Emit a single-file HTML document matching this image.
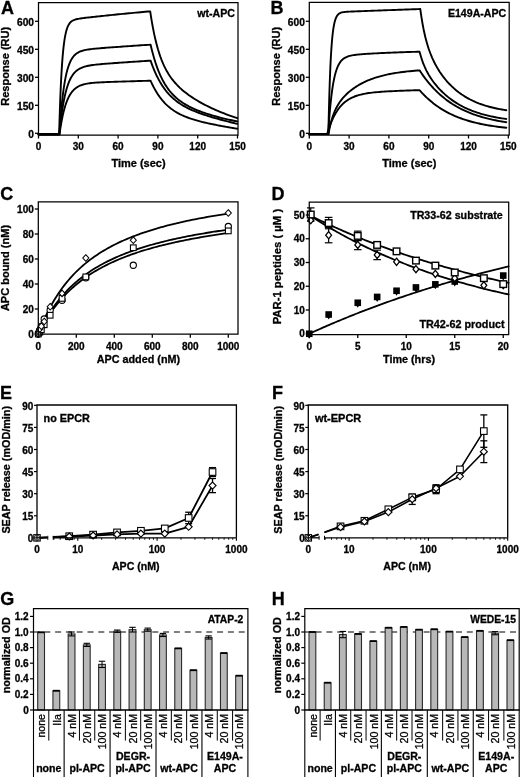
<!DOCTYPE html>
<html><head><meta charset="utf-8"><style>
html,body{margin:0;padding:0;background:#fff;width:520px;height:777px;overflow:hidden;}
svg{display:block;font-family:"Liberation Sans", sans-serif;will-change:transform;filter:blur(0.35px);}
text{stroke:#000;stroke-width:0.3px;}
</style></head><body>
<svg width="520" height="777" viewBox="0 0 520 777" font-family='"Liberation Sans", sans-serif'>
<rect width="520" height="777" fill="#fff"/>
<polyline points="38.5,134.2 59.13,134.2 59.14,133.97 59.16,133.16 59.2,131.69 59.26,129.52 59.34,126.65 59.45,123.11 59.57,118.94 59.73,114.21 59.9,109 60.1,103.39 60.32,97.5 60.58,91.41 60.85,85.24 61.16,79.08 61.49,73.03 61.85,67.17 62.24,61.58 62.65,56.31 63.1,51.4 63.57,46.9 64.07,42.82 64.6,39.15 65.17,35.91 65.76,33.07 66.38,30.6 67.03,28.49 67.72,26.7 68.43,25.19 69.18,23.93 69.95,22.88 70.76,22.02 71.61,21.32 72.48,20.74 73.38,20.26 74.32,19.87 75.29,19.54 76.3,19.27 77.34,19.03 78.41,18.82 79.51,18.63 80.65,18.45 81.82,18.28 83.02,18.12 84.26,17.97 85.54,17.81 86.84,17.66 88.19,17.51 89.56,17.35 90.98,17.19 92.42,17.03 93.91,16.87 95.42,16.7 96.98,16.53 98.57,16.36 100.19,16.19 101.85,16.01 103.55,15.83 105.28,15.65 107.05,15.47 108.85,15.28 110.69,15.09 112.57,14.9 114.49,14.71 116.44,14.51 118.42,14.31 120.45,14.11 122.51,13.91 124.61,13.7 126.75,13.5 128.92,13.29 131.14,13.08 133.39,12.86 135.67,12.65 138,12.43 140.36,12.22 142.76,12 145.2,11.78 147.68,11.56 150.2,11.33 150.24,11.62 150.35,12.34 150.51,13.4 150.72,14.78 150.97,16.42 151.27,18.29 151.62,20.38 152,22.63 152.43,25.04 152.89,27.56 153.4,30.17 153.94,32.85 154.52,35.58 155.13,38.33 155.79,41.08 156.47,43.82 157.2,46.53 157.95,49.2 158.75,51.82 159.57,54.38 160.43,56.87 161.33,59.29 162.26,61.63 163.22,63.89 164.21,66.06 165.23,68.16 166.29,70.17 167.38,72.11 168.5,73.97 169.65,75.76 170.83,77.47 172.05,79.13 173.29,80.71 174.56,82.25 175.87,83.72 177.2,85.15 178.57,86.53 179.96,87.86 181.39,89.16 182.84,90.42 184.33,91.65 185.84,92.85 187.38,94.02 188.95,95.16 190.55,96.28 192.18,97.38 193.84,98.46 195.52,99.51 197.24,100.55 198.98,101.58 200.75,102.58 202.55,103.57 204.37,104.55 206.23,105.51 208.11,106.45 210.02,107.38 211.95,108.3 213.92,109.2 215.91,110.09 217.93,110.96 219.97,111.82 222.04,112.66 224.14,113.49 226.27,114.31 228.42,115.11 230.6,115.89 232.81,116.66 235.04,117.42 237.3,118.16" fill="none" stroke="#000" stroke-width="1.9" stroke-linejoin="round" stroke-linecap="round"/>
<polyline points="38.5,134.2 59.4,134.2 59.4,134.11 59.43,133.77 59.47,133.16 59.53,132.25 59.61,131.03 59.71,129.52 59.84,127.7 59.99,125.6 60.16,123.23 60.36,120.61 60.59,117.77 60.84,114.74 61.12,111.55 61.42,108.23 61.76,104.82 62.12,101.35 62.5,97.86 62.92,94.38 63.37,90.94 63.84,87.57 64.34,84.29 64.88,81.13 65.44,78.12 66.03,75.25 66.65,72.56 67.31,70.04 67.99,67.7 68.71,65.54 69.46,63.56 70.23,61.77 71.05,60.14 71.89,58.68 72.76,57.38 73.67,56.22 74.61,55.2 75.58,54.29 76.59,53.5 77.63,52.81 78.7,52.21 79.8,51.69 80.94,51.23 82.12,50.84 83.32,50.49 84.56,50.19 85.84,49.92 87.15,49.68 88.49,49.47 89.87,49.27 91.29,49.1 92.74,48.93 94.22,48.77 95.74,48.62 97.3,48.48 98.89,48.34 100.52,48.2 102.18,48.07 103.88,47.93 105.61,47.8 107.38,47.66 109.19,47.53 111.03,47.39 112.91,47.25 114.83,47.11 116.79,46.97 118.78,46.83 120.81,46.68 122.87,46.54 124.97,46.39 127.11,46.24 129.29,46.09 131.51,45.94 133.76,45.79 136.05,45.63 138.38,45.47 140.75,45.32 143.15,45.16 145.6,45 148.08,44.83 150.6,44.67 150.64,44.86 150.75,45.31 150.91,45.99 151.11,46.88 151.37,47.94 151.67,49.15 152.01,50.52 152.39,52 152.82,53.6 153.28,55.29 153.78,57.06 154.32,58.9 154.9,60.78 155.51,62.71 156.16,64.66 156.84,66.62 157.56,68.58 158.32,70.54 159.11,72.49 159.93,74.41 160.79,76.3 161.68,78.15 162.6,79.97 163.56,81.74 164.54,83.46 165.56,85.13 166.62,86.74 167.7,88.31 168.81,89.81 169.96,91.27 171.14,92.66 172.35,94.01 173.58,95.3 174.85,96.54 176.15,97.73 177.48,98.87 178.84,99.96 180.23,101.01 181.65,102.02 183.09,103 184.57,103.93 186.08,104.83 187.61,105.69 189.17,106.53 190.77,107.34 192.39,108.12 194.04,108.87 195.72,109.6 197.42,110.31 199.16,111 200.92,111.67 202.71,112.32 204.52,112.96 206.37,113.58 208.24,114.18 210.14,114.78 212.07,115.35 214.03,115.92 216.01,116.47 218.02,117.02 220.05,117.55 222.11,118.07 224.2,118.58 226.32,119.08 228.46,119.57 230.63,120.05 232.83,120.52 235.05,120.99 237.3,121.44" fill="none" stroke="#000" stroke-width="1.9" stroke-linejoin="round" stroke-linecap="round"/>
<polyline points="38.5,134.2 59.34,134.2 59.35,134.14 59.37,133.91 59.41,133.5 59.47,132.89 59.55,132.08 59.65,131.06 59.78,129.83 59.93,128.41 60.11,126.79 60.31,124.99 60.53,123.03 60.78,120.92 61.06,118.67 61.37,116.32 61.7,113.87 62.06,111.35 62.45,108.79 62.86,106.19 63.31,103.59 63.78,101.01 64.29,98.46 64.82,95.96 65.38,93.52 65.98,91.17 66.6,88.9 67.26,86.75 67.94,84.7 68.66,82.77 69.4,80.96 70.18,79.27 70.99,77.7 71.84,76.26 72.71,74.94 73.62,73.73 74.56,72.64 75.53,71.65 76.54,70.75 77.58,69.95 78.65,69.24 79.76,68.6 80.9,68.03 82.07,67.53 83.28,67.08 84.52,66.68 85.8,66.33 87.11,66.01 88.46,65.73 89.84,65.48 91.25,65.25 92.7,65.04 94.19,64.85 95.71,64.67 97.26,64.5 98.86,64.34 100.48,64.19 102.15,64.04 103.85,63.9 105.58,63.76 107.35,63.62 109.16,63.49 111.01,63.35 112.89,63.21 114.81,63.07 116.76,62.93 118.76,62.79 120.79,62.65 122.85,62.51 124.96,62.36 127.1,62.22 129.28,62.07 131.5,61.92 133.75,61.77 136.04,61.61 138.37,61.45 140.74,61.3 143.15,61.13 145.59,60.97 148.08,60.81 150.6,60.64 150.64,60.76 150.75,61.07 150.91,61.53 151.11,62.12 151.37,62.84 151.67,63.67 152.01,64.6 152.39,65.62 152.82,66.73 153.28,67.9 153.78,69.14 154.32,70.44 154.9,71.78 155.51,73.16 156.16,74.56 156.84,76 157.56,77.44 158.32,78.9 159.11,80.36 159.93,81.82 160.79,83.26 161.68,84.7 162.6,86.12 163.56,87.52 164.54,88.89 165.56,90.24 166.62,91.56 167.7,92.84 168.81,94.1 169.96,95.32 171.14,96.5 172.35,97.65 173.58,98.76 174.85,99.84 176.15,100.88 177.48,101.89 178.84,102.86 180.23,103.8 181.65,104.71 183.09,105.59 184.57,106.44 186.08,107.26 187.61,108.05 189.17,108.82 190.77,109.57 192.39,110.29 194.04,110.99 195.72,111.68 197.42,112.35 199.16,113 200.92,113.64 202.71,114.26 204.52,114.87 206.37,115.47 208.24,116.07 210.14,116.65 212.07,117.23 214.03,117.8 216.01,118.36 218.02,118.92 220.05,119.48 222.11,120.03 224.2,120.58 226.32,121.13 228.46,121.68 230.63,122.23 232.83,122.77 235.05,123.32 237.3,123.87" fill="none" stroke="#000" stroke-width="1.9" stroke-linejoin="round" stroke-linecap="round"/>
<polyline points="38.5,134.2 59.49,134.2 59.5,134.16 59.52,134 59.56,133.71 59.62,133.29 59.7,132.72 59.81,132 59.93,131.14 60.08,130.13 60.26,128.99 60.46,127.73 60.68,126.34 60.94,124.84 61.21,123.25 61.52,121.57 61.85,119.82 62.21,118.01 62.6,116.16 63.01,114.28 63.46,112.4 63.93,110.51 64.43,108.64 64.97,106.8 65.53,104.99 66.12,103.24 66.74,101.55 67.4,99.92 68.08,98.37 68.79,96.89 69.54,95.51 70.32,94.2 71.13,92.99 71.97,91.86 72.84,90.82 73.75,89.86 74.69,88.99 75.66,88.19 76.67,87.47 77.7,86.83 78.77,86.25 79.88,85.73 81.02,85.27 82.19,84.86 83.39,84.49 84.63,84.17 85.91,83.89 87.22,83.64 88.56,83.42 89.94,83.23 91.35,83.06 92.8,82.91 94.28,82.78 95.8,82.66 97.35,82.55 98.94,82.45 100.57,82.36 102.23,82.27 103.93,82.2 105.66,82.12 107.43,82.05 109.23,81.98 111.08,81.91 112.95,81.85 114.87,81.78 116.82,81.72 118.81,81.65 120.84,81.59 122.9,81.53 125,81.46 127.14,81.4 129.31,81.33 131.53,81.26 133.78,81.19 136.07,81.13 138.39,81.06 140.76,80.99 143.16,80.92 145.6,80.84 148.08,80.77 150.6,80.7 150.64,80.79 150.75,81.03 150.91,81.39 151.11,81.86 151.37,82.42 151.67,83.07 152.01,83.8 152.39,84.6 152.82,85.46 153.28,86.38 153.78,87.35 154.32,88.36 154.9,89.41 155.51,90.49 156.16,91.59 156.84,92.71 157.56,93.85 158.32,94.99 159.11,96.13 159.93,97.27 160.79,98.4 161.68,99.52 162.6,100.63 163.56,101.72 164.54,102.79 165.56,103.84 166.62,104.87 167.7,105.87 168.81,106.84 169.96,107.79 171.14,108.7 172.35,109.59 173.58,110.45 174.85,111.28 176.15,112.08 177.48,112.85 178.84,113.59 180.23,114.31 181.65,115 183.09,115.66 184.57,116.3 186.08,116.92 187.61,117.51 189.17,118.08 190.77,118.63 192.39,119.17 194.04,119.68 195.72,120.18 197.42,120.67 199.16,121.14 200.92,121.6 202.71,122.05 204.52,122.48 206.37,122.91 208.24,123.33 210.14,123.74 212.07,124.14 214.03,124.54 216.01,124.94 218.02,125.33 220.05,125.71 222.11,126.09 224.2,126.47 226.32,126.85 228.46,127.23 230.63,127.6 232.83,127.98 235.05,128.35 237.3,128.72" fill="none" stroke="#000" stroke-width="1.9" stroke-linejoin="round" stroke-linecap="round"/>
<path d="M38.5,135 L38.5,2.5 L238,2.5 L238,135 Z" fill="none" stroke="#000" stroke-width="1.25"/>
<line x1="35" y1="133.3" x2="38.5" y2="133.3" stroke="#000" stroke-width="1.3"/>
<text x="34" y="137.7" font-size="10.2" font-weight="bold" text-anchor="end" fill="#000">0</text>
<line x1="35" y1="105.3" x2="38.5" y2="105.3" stroke="#000" stroke-width="1.3"/>
<text x="34" y="109.7" font-size="10.2" font-weight="bold" text-anchor="end" fill="#000">150</text>
<line x1="35" y1="77.3" x2="38.5" y2="77.3" stroke="#000" stroke-width="1.3"/>
<text x="34" y="81.7" font-size="10.2" font-weight="bold" text-anchor="end" fill="#000">300</text>
<line x1="35" y1="49.3" x2="38.5" y2="49.3" stroke="#000" stroke-width="1.3"/>
<text x="34" y="53.7" font-size="10.2" font-weight="bold" text-anchor="end" fill="#000">450</text>
<line x1="35" y1="21.3" x2="38.5" y2="21.3" stroke="#000" stroke-width="1.3"/>
<text x="34" y="25.7" font-size="10.2" font-weight="bold" text-anchor="end" fill="#000">600</text>
<line x1="38.5" y1="135" x2="38.5" y2="138.5" stroke="#000" stroke-width="1.3"/>
<text x="38.5" y="149.7" font-size="10" font-weight="bold" text-anchor="middle" fill="#000">0</text>
<line x1="78.3" y1="135" x2="78.3" y2="138.5" stroke="#000" stroke-width="1.3"/>
<text x="78.3" y="149.7" font-size="10" font-weight="bold" text-anchor="middle" fill="#000">30</text>
<line x1="118.1" y1="135" x2="118.1" y2="138.5" stroke="#000" stroke-width="1.3"/>
<text x="118.1" y="149.7" font-size="10" font-weight="bold" text-anchor="middle" fill="#000">60</text>
<line x1="157.9" y1="135" x2="157.9" y2="138.5" stroke="#000" stroke-width="1.3"/>
<text x="157.9" y="149.7" font-size="10" font-weight="bold" text-anchor="middle" fill="#000">90</text>
<line x1="197.7" y1="135" x2="197.7" y2="138.5" stroke="#000" stroke-width="1.3"/>
<text x="197.7" y="149.7" font-size="10" font-weight="bold" text-anchor="middle" fill="#000">120</text>
<line x1="237.5" y1="135" x2="237.5" y2="138.5" stroke="#000" stroke-width="1.3"/>
<text x="237.5" y="149.7" font-size="10" font-weight="bold" text-anchor="middle" fill="#000">150</text>
<text x="138.5" y="166.6" font-size="11" font-weight="bold" text-anchor="middle" fill="#000">Time (sec)</text>
<text x="9.4" y="66.3" font-size="11" font-weight="bold" text-anchor="middle" fill="#000" transform="rotate(-90 9.4 66.3)">Response (RU)</text>
<text x="235" y="16.5" font-size="10.6" font-weight="bold" text-anchor="end" fill="#000">wt-APC</text>
<text x="0.9" y="13.6" font-size="18" font-weight="bold" text-anchor="start" fill="#000">A</text>
<polyline points="309.3,133.9 328.38,133.9 328.38,133.6 328.4,132.53 328.45,130.59 328.51,127.73 328.59,123.99 328.69,119.4 328.82,114.05 328.97,108.04 329.15,101.5 329.35,94.57 329.58,87.4 329.83,80.14 330.11,72.92 330.42,65.89 330.75,59.15 331.12,52.79 331.51,46.9 331.93,41.53 332.37,36.7 332.85,32.42 333.36,28.68 333.9,25.47 334.46,22.75 335.06,20.47 335.69,18.6 336.35,17.07 337.04,15.84 337.76,14.87 338.51,14.1 339.3,13.51 340.12,13.06 340.96,12.71 341.85,12.44 342.76,12.24 343.71,12.08 344.69,11.96 345.7,11.86 346.75,11.78 347.83,11.71 348.94,11.65 350.09,11.6 351.27,11.55 352.49,11.5 353.74,11.45 355.03,11.4 356.35,11.35 357.7,11.29 359.09,11.24 360.52,11.19 361.98,11.13 363.48,11.08 365.01,11.02 366.58,10.96 368.18,10.9 369.82,10.84 371.49,10.78 373.21,10.72 374.96,10.65 376.74,10.59 378.56,10.52 380.42,10.45 382.32,10.38 384.25,10.31 386.22,10.24 388.23,10.17 390.27,10.1 392.35,10.02 394.47,9.95 396.63,9.87 398.82,9.79 401.06,9.71 403.33,9.63 405.64,9.55 407.98,9.47 410.37,9.38 412.79,9.3 415.26,9.21 417.76,9.12 420.3,9.04 420.34,9.35 420.45,10.14 420.6,11.3 420.81,12.78 421.06,14.53 421.36,16.52 421.7,18.7 422.08,21.02 422.5,23.47 422.96,25.99 423.46,28.58 423.99,31.19 424.56,33.8 425.17,36.41 425.81,38.99 426.49,41.54 427.21,44.04 427.96,46.48 428.74,48.87 429.56,51.2 430.41,53.47 431.29,55.68 432.2,57.83 433.15,59.93 434.13,61.97 435.14,63.96 436.19,65.9 437.26,67.78 438.37,69.63 439.5,71.42 440.67,73.17 441.87,74.88 443.1,76.55 444.36,78.18 445.65,79.76 446.96,81.31 448.31,82.81 449.69,84.27 451.1,85.69 452.53,87.07 454,88.41 455.49,89.71 457.01,90.96 458.56,92.18 460.14,93.35 461.75,94.48 463.39,95.56 465.05,96.61 466.74,97.62 468.46,98.58 470.21,99.51 471.99,100.39 473.79,101.24 475.62,102.05 477.48,102.82 479.36,103.56 481.27,104.26 483.21,104.92 485.18,105.56 487.17,106.16 489.19,106.73 491.24,107.26 493.31,107.77 495.41,108.25 497.53,108.7 499.69,109.13 501.87,109.53 504.07,109.91 506.3,110.27" fill="none" stroke="#000" stroke-width="1.9" stroke-linejoin="round" stroke-linecap="round"/>
<polyline points="309.3,133.9 328.18,133.9 328.19,133.8 328.21,133.45 328.25,132.8 328.31,131.85 328.39,130.58 328.5,128.99 328.62,127.1 328.78,124.91 328.95,122.46 329.15,119.76 329.38,116.85 329.63,113.76 329.91,110.53 330.21,107.19 330.55,103.78 330.91,100.35 331.3,96.92 331.71,93.53 332.16,90.22 332.63,87.01 333.14,83.93 333.67,80.99 334.24,78.22 334.83,75.62 335.46,73.21 336.11,70.99 336.8,68.96 337.51,67.12 338.26,65.46 339.04,63.97 339.86,62.65 340.7,61.48 341.58,60.45 342.49,59.56 343.43,58.78 344.4,58.1 345.41,57.52 346.45,57.02 347.53,56.58 348.64,56.21 349.78,55.89 350.95,55.61 352.16,55.37 353.41,55.16 354.69,54.97 356,54.8 357.35,54.65 358.73,54.51 360.15,54.38 361.6,54.26 363.09,54.14 364.61,54.03 366.17,53.92 367.77,53.82 369.4,53.72 371.06,53.62 372.77,53.52 374.5,53.42 376.28,53.33 378.09,53.24 379.94,53.14 381.83,53.05 383.75,52.96 385.71,52.87 387.7,52.79 389.74,52.7 391.81,52.61 393.91,52.53 396.06,52.45 398.24,52.37 400.46,52.29 402.72,52.21 405.02,52.13 407.35,52.06 409.73,51.99 412.14,51.91 414.59,51.84 417.07,51.77 419.6,51.71 419.64,51.88 419.75,52.29 419.91,52.9 420.11,53.68 420.37,54.61 420.67,55.66 421.01,56.82 421.39,58.06 421.82,59.37 422.28,60.74 422.78,62.14 423.32,63.57 423.9,65.02 424.51,66.48 425.16,67.94 425.84,69.4 426.56,70.85 427.32,72.29 428.11,73.72 428.93,75.14 429.79,76.55 430.68,77.94 431.6,79.32 432.56,80.68 433.54,82.03 434.56,83.36 435.62,84.68 436.7,85.98 437.81,87.26 438.96,88.53 440.14,89.78 441.35,91.01 442.58,92.23 443.85,93.42 445.15,94.59 446.48,95.74 447.84,96.87 449.23,97.98 450.65,99.06 452.09,100.11 453.57,101.14 455.08,102.14 456.61,103.11 458.17,104.06 459.77,104.98 461.39,105.87 463.04,106.73 464.72,107.57 466.42,108.37 468.16,109.15 469.92,109.89 471.71,110.62 473.52,111.31 475.37,111.97 477.24,112.61 479.14,113.22 481.07,113.8 483.03,114.36 485.01,114.9 487.02,115.41 489.05,115.89 491.11,116.35 493.2,116.79 495.32,117.21 497.46,117.6 499.63,117.98 501.83,118.34 504.05,118.67 506.3,118.99" fill="none" stroke="#000" stroke-width="1.9" stroke-linejoin="round" stroke-linecap="round"/>
<polyline points="309.3,133.9 328.5,133.9 328.5,133.87 328.52,133.74 328.56,133.52 328.62,133.19 328.71,132.74 328.81,132.18 328.94,131.51 329.09,130.74 329.26,129.86 329.46,128.89 329.69,127.83 329.94,126.69 330.22,125.48 330.52,124.21 330.85,122.89 331.21,121.54 331.6,120.15 332.01,118.75 332.46,117.34 332.93,115.92 333.44,114.52 333.97,113.12 334.53,111.73 335.12,110.37 335.74,109.03 336.4,107.72 337.08,106.44 337.8,105.18 338.54,103.95 339.32,102.75 340.13,101.58 340.97,100.43 341.85,99.31 342.75,98.21 343.69,97.13 344.66,96.08 345.67,95.05 346.7,94.04 347.78,93.04 348.88,92.07 350.02,91.11 351.19,90.18 352.4,89.26 353.64,88.36 354.91,87.48 356.22,86.62 357.56,85.78 358.94,84.95 360.35,84.15 361.8,83.37 363.28,82.62 364.8,81.88 366.35,81.17 367.94,80.48 369.57,79.81 371.23,79.17 372.93,78.55 374.66,77.95 376.43,77.38 378.23,76.83 380.08,76.3 381.95,75.8 383.87,75.32 385.82,74.86 387.81,74.43 389.84,74.02 391.9,73.62 394,73.25 396.14,72.9 398.32,72.57 400.53,72.26 402.78,71.97 405.07,71.69 407.39,71.43 409.76,71.19 412.16,70.96 414.6,70.75 417.08,70.55 419.6,70.37 419.64,70.43 419.75,70.6 419.91,70.84 420.11,71.16 420.37,71.54 420.67,71.99 421.01,72.5 421.39,73.07 421.82,73.69 422.28,74.35 422.78,75.07 423.32,75.83 423.9,76.63 424.51,77.46 425.16,78.33 425.84,79.23 426.56,80.16 427.32,81.12 428.11,82.1 428.93,83.09 429.79,84.11 430.68,85.14 431.6,86.19 432.56,87.24 433.54,88.3 434.56,89.37 435.62,90.44 436.7,91.51 437.81,92.58 438.96,93.65 440.14,94.71 441.35,95.76 442.58,96.81 443.85,97.85 445.15,98.88 446.48,99.89 447.84,100.89 449.23,101.88 450.65,102.84 452.09,103.8 453.57,104.73 455.08,105.64 456.61,106.54 458.17,107.41 459.77,108.27 461.39,109.1 463.04,109.91 464.72,110.7 466.42,111.46 468.16,112.21 469.92,112.93 471.71,113.63 473.52,114.3 475.37,114.96 477.24,115.59 479.14,116.19 481.07,116.78 483.03,117.34 485.01,117.89 487.02,118.41 489.05,118.91 491.11,119.39 493.2,119.85 495.32,120.29 497.46,120.71 499.63,121.11 501.83,121.49 504.05,121.86 506.3,122.21" fill="none" stroke="#000" stroke-width="1.9" stroke-linejoin="round" stroke-linecap="round"/>
<polyline points="309.3,133.9 327.18,133.9 327.19,133.88 327.21,133.8 327.25,133.67 327.31,133.46 327.4,133.19 327.5,132.84 327.63,132.42 327.78,131.93 327.96,131.36 328.16,130.73 328.39,130.02 328.65,129.25 328.93,128.42 329.24,127.52 329.57,126.57 329.94,125.58 330.33,124.53 330.75,123.45 331.2,122.33 331.68,121.18 332.19,120.01 332.73,118.82 333.3,117.62 333.9,116.42 334.53,115.21 335.19,114.01 335.88,112.82 336.61,111.64 337.36,110.48 338.15,109.35 338.97,108.24 339.83,107.16 340.71,106.12 341.63,105.11 342.58,104.15 343.57,103.22 344.58,102.33 345.64,101.49 346.72,100.68 347.84,99.93 348.99,99.21 350.18,98.54 351.4,97.9 352.66,97.31 353.95,96.76 355.28,96.25 356.64,95.77 358.03,95.33 359.46,94.92 360.93,94.55 362.43,94.2 363.97,93.88 365.55,93.58 367.16,93.31 368.8,93.06 370.49,92.83 372.21,92.62 373.96,92.43 375.75,92.25 377.58,92.08 379.45,91.93 381.35,91.78 383.29,91.65 385.27,91.52 387.29,91.4 389.34,91.29 391.43,91.18 393.56,91.08 395.73,90.98 397.93,90.89 400.17,90.8 402.46,90.71 404.77,90.62 407.13,90.53 409.53,90.44 411.96,90.36 414.44,90.27 416.95,90.19 419.5,90.1 419.54,90.15 419.65,90.27 419.81,90.45 420.02,90.69 420.27,90.98 420.57,91.31 420.91,91.69 421.3,92.12 421.72,92.58 422.18,93.07 422.68,93.6 423.22,94.17 423.8,94.76 424.42,95.38 425.07,96.03 425.75,96.7 426.47,97.38 427.23,98.09 428.02,98.82 428.84,99.55 429.7,100.3 430.59,101.07 431.51,101.84 432.47,102.61 433.46,103.39 434.48,104.18 435.53,104.96 436.62,105.75 437.74,106.53 438.88,107.32 440.06,108.09 441.27,108.86 442.51,109.63 443.78,110.38 445.08,111.13 446.41,111.87 447.77,112.59 449.16,113.31 450.58,114.01 452.03,114.7 453.51,115.37 455.02,116.03 456.55,116.67 458.12,117.3 459.71,117.91 461.34,118.51 462.99,119.09 464.67,119.65 466.38,120.19 468.11,120.72 469.88,121.23 471.67,121.73 473.49,122.21 475.33,122.67 477.21,123.11 479.11,123.54 481.04,123.95 483,124.35 484.98,124.73 486.99,125.09 489.03,125.44 491.1,125.77 493.19,126.09 495.31,126.4 497.45,126.69 499.63,126.96 501.82,127.23 504.05,127.48 506.3,127.72" fill="none" stroke="#000" stroke-width="1.9" stroke-linejoin="round" stroke-linecap="round"/>
<path d="M309.3,135 L309.3,2.4 L509.2,2.4 L509.2,135 Z" fill="none" stroke="#000" stroke-width="1.25"/>
<line x1="305.8" y1="133.3" x2="309.3" y2="133.3" stroke="#000" stroke-width="1.3"/>
<text x="304.8" y="137.7" font-size="10.2" font-weight="bold" text-anchor="end" fill="#000">0</text>
<line x1="305.8" y1="105.3" x2="309.3" y2="105.3" stroke="#000" stroke-width="1.3"/>
<text x="304.8" y="109.7" font-size="10.2" font-weight="bold" text-anchor="end" fill="#000">150</text>
<line x1="305.8" y1="77.3" x2="309.3" y2="77.3" stroke="#000" stroke-width="1.3"/>
<text x="304.8" y="81.7" font-size="10.2" font-weight="bold" text-anchor="end" fill="#000">300</text>
<line x1="305.8" y1="49.3" x2="309.3" y2="49.3" stroke="#000" stroke-width="1.3"/>
<text x="304.8" y="53.7" font-size="10.2" font-weight="bold" text-anchor="end" fill="#000">450</text>
<line x1="305.8" y1="21.3" x2="309.3" y2="21.3" stroke="#000" stroke-width="1.3"/>
<text x="304.8" y="25.7" font-size="10.2" font-weight="bold" text-anchor="end" fill="#000">600</text>
<line x1="309.3" y1="135" x2="309.3" y2="138.5" stroke="#000" stroke-width="1.3"/>
<text x="309.3" y="149.7" font-size="10" font-weight="bold" text-anchor="middle" fill="#000">0</text>
<line x1="349.1" y1="135" x2="349.1" y2="138.5" stroke="#000" stroke-width="1.3"/>
<text x="349.1" y="149.7" font-size="10" font-weight="bold" text-anchor="middle" fill="#000">30</text>
<line x1="388.9" y1="135" x2="388.9" y2="138.5" stroke="#000" stroke-width="1.3"/>
<text x="388.9" y="149.7" font-size="10" font-weight="bold" text-anchor="middle" fill="#000">60</text>
<line x1="428.7" y1="135" x2="428.7" y2="138.5" stroke="#000" stroke-width="1.3"/>
<text x="428.7" y="149.7" font-size="10" font-weight="bold" text-anchor="middle" fill="#000">90</text>
<line x1="468.5" y1="135" x2="468.5" y2="138.5" stroke="#000" stroke-width="1.3"/>
<text x="468.5" y="149.7" font-size="10" font-weight="bold" text-anchor="middle" fill="#000">120</text>
<line x1="508.31" y1="135" x2="508.31" y2="138.5" stroke="#000" stroke-width="1.3"/>
<text x="508.31" y="149.7" font-size="10" font-weight="bold" text-anchor="middle" fill="#000">150</text>
<text x="409.3" y="166.6" font-size="11" font-weight="bold" text-anchor="middle" fill="#000">Time (sec)</text>
<text x="280.2" y="66.3" font-size="11" font-weight="bold" text-anchor="middle" fill="#000" transform="rotate(-90 280.2 66.3)">Response (RU)</text>
<text x="506.2" y="16.5" font-size="10.6" font-weight="bold" text-anchor="end" fill="#000">E149A-APC</text>
<text x="270.5" y="13.6" font-size="18" font-weight="bold" text-anchor="start" fill="#000">B</text>
<polyline points="38.3,334 39.9,329.78 41.49,325.78 43.09,321.98 44.69,318.38 46.28,314.95 47.88,311.68 49.48,308.56 51.07,305.58 52.67,302.74 54.27,300.02 55.86,297.41 57.46,294.91 59.06,292.52 60.65,290.21 62.25,288 63.85,285.88 65.44,283.83 67.04,281.86 68.64,279.96 70.23,278.13 71.83,276.36 73.43,274.65 75.02,273 76.62,271.41 78.22,269.87 79.81,268.37 81.41,266.93 83.01,265.53 84.6,264.17 86.2,262.85 87.8,261.57 89.39,260.33 90.99,259.13 92.59,257.96 94.18,256.82 95.78,255.72 97.38,254.64 98.97,253.6 100.57,252.58 102.17,251.59 103.76,250.62 105.36,249.68 106.96,248.76 108.55,247.87 110.15,246.99 111.75,246.14 113.34,245.31 114.94,244.5 116.54,243.71 118.13,242.93 119.73,242.18 121.33,241.44 122.92,240.72 124.52,240.01 126.12,239.32 127.71,238.64 129.31,237.98 130.91,237.33 132.5,236.7 134.1,236.08 135.69,235.47 137.29,234.88 138.89,234.29 140.48,233.72 142.08,233.16 143.68,232.61 145.27,232.07 146.87,231.54 148.47,231.02 150.06,230.52 151.66,230.02 153.26,229.53 154.85,229.05 156.45,228.57 158.05,228.11 159.64,227.65 161.24,227.21 162.84,226.77 164.43,226.33 166.03,225.91 167.63,225.49 169.22,225.08 170.82,224.68 172.42,224.28 174.01,223.89 175.61,223.51 177.21,223.13 178.8,222.76 180.4,222.39 182,222.03 183.59,221.68 185.19,221.33 186.79,220.99 188.38,220.65 189.98,220.32 191.58,219.99 193.17,219.67 194.77,219.35 196.37,219.04 197.96,218.73 199.56,218.42 201.16,218.12 202.75,217.83 204.35,217.54 205.95,217.25 207.54,216.97 209.14,216.69 210.74,216.41 212.33,216.14 213.93,215.87 215.53,215.61 217.12,215.35 218.72,215.09 220.32,214.84 221.91,214.59 223.51,214.34 225.11,214.1 226.7,213.86 228.3,213.62" fill="none" stroke="#000" stroke-width="1.8" stroke-linejoin="round" stroke-linecap="round"/>
<polyline points="38.3,334 39.9,330.59 41.49,327.33 43.09,324.24 44.69,321.28 46.28,318.45 47.88,315.75 49.48,313.16 51.07,310.69 52.67,308.31 54.27,306.03 55.86,303.84 57.46,301.73 59.06,299.7 60.65,297.75 62.25,295.87 63.85,294.06 65.44,292.31 67.04,290.62 68.64,288.99 70.23,287.41 71.83,285.89 73.43,284.41 75.02,282.99 76.62,281.6 78.22,280.26 79.81,278.96 81.41,277.7 83.01,276.48 84.6,275.29 86.2,274.13 87.8,273.01 89.39,271.92 90.99,270.86 92.59,269.83 94.18,268.83 95.78,267.85 97.38,266.9 98.97,265.97 100.57,265.07 102.17,264.18 103.76,263.32 105.36,262.49 106.96,261.67 108.55,260.87 110.15,260.09 111.75,259.33 113.34,258.58 114.94,257.86 116.54,257.15 118.13,256.45 119.73,255.77 121.33,255.11 122.92,254.46 124.52,253.82 126.12,253.2 127.71,252.59 129.31,251.99 130.91,251.4 132.5,250.83 134.1,250.27 135.69,249.72 137.29,249.18 138.89,248.65 140.48,248.13 142.08,247.62 143.68,247.12 145.27,246.63 146.87,246.15 148.47,245.67 150.06,245.21 151.66,244.75 153.26,244.31 154.85,243.87 156.45,243.44 158.05,243.01 159.64,242.6 161.24,242.19 162.84,241.78 164.43,241.39 166.03,241 167.63,240.61 169.22,240.24 170.82,239.87 172.42,239.5 174.01,239.14 175.61,238.79 177.21,238.44 178.8,238.1 180.4,237.77 182,237.43 183.59,237.11 185.19,236.79 186.79,236.47 188.38,236.16 189.98,235.85 191.58,235.55 193.17,235.25 194.77,234.96 196.37,234.67 197.96,234.38 199.56,234.1 201.16,233.82 202.75,233.55 204.35,233.28 205.95,233.01 207.54,232.75 209.14,232.49 210.74,232.24 212.33,231.98 213.93,231.73 215.53,231.49 217.12,231.25 218.72,231.01 220.32,230.77 221.91,230.54 223.51,230.31 225.11,230.08 226.7,229.86 228.3,229.64" fill="none" stroke="#000" stroke-width="1.8" stroke-linejoin="round" stroke-linecap="round"/>
<polyline points="38.3,334 39.9,330.82 41.49,327.78 43.09,324.87 44.69,322.1 46.28,319.44 47.88,316.89 49.48,314.45 51.07,312.1 52.67,309.85 54.27,307.68 55.86,305.6 57.46,303.59 59.06,301.66 60.65,299.79 62.25,297.99 63.85,296.26 65.44,294.58 67.04,292.96 68.64,291.39 70.23,289.87 71.83,288.4 73.43,286.98 75.02,285.6 76.62,284.26 78.22,282.96 79.81,281.7 81.41,280.48 83.01,279.29 84.6,278.14 86.2,277.02 87.8,275.93 89.39,274.86 90.99,273.83 92.59,272.82 94.18,271.84 95.78,270.89 97.38,269.96 98.97,269.05 100.57,268.17 102.17,267.3 103.76,266.46 105.36,265.64 106.96,264.84 108.55,264.05 110.15,263.29 111.75,262.54 113.34,261.81 114.94,261.09 116.54,260.39 118.13,259.71 119.73,259.04 121.33,258.38 122.92,257.74 124.52,257.11 126.12,256.49 127.71,255.89 129.31,255.3 130.91,254.72 132.5,254.16 134.1,253.6 135.69,253.05 137.29,252.52 138.89,251.99 140.48,251.48 142.08,250.97 143.68,250.48 145.27,249.99 146.87,249.51 148.47,249.04 150.06,248.58 151.66,248.13 153.26,247.69 154.85,247.25 156.45,246.82 158.05,246.4 159.64,245.98 161.24,245.58 162.84,245.17 164.43,244.78 166.03,244.39 167.63,244.01 169.22,243.63 170.82,243.27 172.42,242.9 174.01,242.54 175.61,242.19 177.21,241.84 178.8,241.5 180.4,241.17 182,240.84 183.59,240.51 185.19,240.19 186.79,239.87 188.38,239.56 189.98,239.25 191.58,238.95 193.17,238.65 194.77,238.36 196.37,238.07 197.96,237.78 199.56,237.5 201.16,237.22 202.75,236.95 204.35,236.68 205.95,236.41 207.54,236.15 209.14,235.89 210.74,235.63 212.33,235.38 213.93,235.13 215.53,234.88 217.12,234.64 218.72,234.4 220.32,234.16 221.91,233.93 223.51,233.7 225.11,233.47 226.7,233.25 228.3,233.02" fill="none" stroke="#000" stroke-width="1.8" stroke-linejoin="round" stroke-linecap="round"/>
<circle cx="38.3" cy="334" r="3.1" fill="#fff" stroke="#000" stroke-width="1.1"/>
<circle cx="39.82" cy="330.25" r="3.1" fill="#fff" stroke="#000" stroke-width="1.1"/>
<circle cx="41.34" cy="326.5" r="3.1" fill="#fff" stroke="#000" stroke-width="1.1"/>
<circle cx="44.19" cy="319" r="3.1" fill="#fff" stroke="#000" stroke-width="1.1"/>
<circle cx="50.17" cy="310.25" r="3.1" fill="#fff" stroke="#000" stroke-width="1.1"/>
<circle cx="62.05" cy="300.25" r="3.1" fill="#fff" stroke="#000" stroke-width="1.1"/>
<circle cx="85.8" cy="277.75" r="3.1" fill="#fff" stroke="#000" stroke-width="1.1"/>
<circle cx="133.3" cy="265.25" r="3.1" fill="#fff" stroke="#000" stroke-width="1.1"/>
<circle cx="228.3" cy="226.5" r="3.1" fill="#fff" stroke="#000" stroke-width="1.1"/>
<rect x="35.45" y="331.15" width="5.7" height="5.7" stroke="#000" stroke-width="1.1" fill="#fff"/>
<rect x="36.97" y="329.27" width="5.7" height="5.7" stroke="#000" stroke-width="1.1" fill="#fff"/>
<rect x="38.49" y="326.9" width="5.7" height="5.7" stroke="#000" stroke-width="1.1" fill="#fff"/>
<rect x="41.34" y="321.9" width="5.7" height="5.7" stroke="#000" stroke-width="1.1" fill="#fff"/>
<rect x="47.32" y="312.4" width="5.7" height="5.7" stroke="#000" stroke-width="1.1" fill="#fff"/>
<rect x="59.2" y="295.52" width="5.7" height="5.7" stroke="#000" stroke-width="1.1" fill="#fff"/>
<rect x="82.95" y="274.02" width="5.7" height="5.7" stroke="#000" stroke-width="1.1" fill="#fff"/>
<rect x="130.45" y="244.9" width="5.7" height="5.7" stroke="#000" stroke-width="1.1" fill="#fff"/>
<rect x="225.45" y="228.03" width="5.7" height="5.7" stroke="#000" stroke-width="1.1" fill="#fff"/>
<polygon points="38.3,330.7 41.3,334 38.3,337.3 35.3,334" fill="#fff" stroke="#000" stroke-width="1.1"/>
<polygon points="39.82,325.7 42.82,329 39.82,332.3 36.82,329" fill="#fff" stroke="#000" stroke-width="1.1"/>
<polygon points="41.34,322.95 44.34,326.25 41.34,329.55 38.34,326.25" fill="#fff" stroke="#000" stroke-width="1.1"/>
<polygon points="44.19,318.2 47.19,321.5 44.19,324.8 41.19,321.5" fill="#fff" stroke="#000" stroke-width="1.1"/>
<polygon points="50.17,303.45 53.17,306.75 50.17,310.05 47.17,306.75" fill="#fff" stroke="#000" stroke-width="1.1"/>
<polygon points="62.05,290.07 65.05,293.38 62.05,296.68 59.05,293.38" fill="#fff" stroke="#000" stroke-width="1.1"/>
<polygon points="85.8,254.7 88.8,258 85.8,261.3 82.8,258" fill="#fff" stroke="#000" stroke-width="1.1"/>
<polygon points="133.3,236.95 136.3,240.25 133.3,243.55 130.3,240.25" fill="#fff" stroke="#000" stroke-width="1.1"/>
<polygon points="228.3,209.7 231.3,213 228.3,216.3 225.3,213" fill="#fff" stroke="#000" stroke-width="1.1"/>
<path d="M38.3,334.2 L38.3,201.8 L238,201.8 L238,334.2 Z" fill="none" stroke="#000" stroke-width="1.25"/>
<line x1="34.8" y1="334" x2="38.3" y2="334" stroke="#000" stroke-width="1.3"/>
<text x="33.8" y="337.6" font-size="10" font-weight="bold" text-anchor="end" fill="#000">0</text>
<line x1="34.8" y1="309" x2="38.3" y2="309" stroke="#000" stroke-width="1.3"/>
<text x="33.8" y="312.6" font-size="10" font-weight="bold" text-anchor="end" fill="#000">20</text>
<line x1="34.8" y1="284" x2="38.3" y2="284" stroke="#000" stroke-width="1.3"/>
<text x="33.8" y="287.6" font-size="10" font-weight="bold" text-anchor="end" fill="#000">40</text>
<line x1="34.8" y1="259" x2="38.3" y2="259" stroke="#000" stroke-width="1.3"/>
<text x="33.8" y="262.6" font-size="10" font-weight="bold" text-anchor="end" fill="#000">60</text>
<line x1="34.8" y1="234" x2="38.3" y2="234" stroke="#000" stroke-width="1.3"/>
<text x="33.8" y="237.6" font-size="10" font-weight="bold" text-anchor="end" fill="#000">80</text>
<line x1="34.8" y1="209" x2="38.3" y2="209" stroke="#000" stroke-width="1.3"/>
<text x="33.8" y="212.6" font-size="10" font-weight="bold" text-anchor="end" fill="#000">100</text>
<line x1="38.3" y1="334.2" x2="38.3" y2="337.7" stroke="#000" stroke-width="1.3"/>
<text x="38.3" y="349.8" font-size="10" font-weight="bold" text-anchor="middle" fill="#000">0</text>
<line x1="76.3" y1="334.2" x2="76.3" y2="337.7" stroke="#000" stroke-width="1.3"/>
<text x="76.3" y="349.8" font-size="10" font-weight="bold" text-anchor="middle" fill="#000">200</text>
<line x1="114.3" y1="334.2" x2="114.3" y2="337.7" stroke="#000" stroke-width="1.3"/>
<text x="114.3" y="349.8" font-size="10" font-weight="bold" text-anchor="middle" fill="#000">400</text>
<line x1="152.3" y1="334.2" x2="152.3" y2="337.7" stroke="#000" stroke-width="1.3"/>
<text x="152.3" y="349.8" font-size="10" font-weight="bold" text-anchor="middle" fill="#000">600</text>
<line x1="190.3" y1="334.2" x2="190.3" y2="337.7" stroke="#000" stroke-width="1.3"/>
<text x="190.3" y="349.8" font-size="10" font-weight="bold" text-anchor="middle" fill="#000">800</text>
<line x1="228.3" y1="334.2" x2="228.3" y2="337.7" stroke="#000" stroke-width="1.3"/>
<text x="228.3" y="349.8" font-size="10" font-weight="bold" text-anchor="middle" fill="#000">1000</text>
<text x="138.4" y="363.4" font-size="10.8" font-weight="bold" text-anchor="middle" fill="#000">APC added (nM)</text>
<text x="9.4" y="268" font-size="11" font-weight="bold" text-anchor="middle" fill="#000" transform="rotate(-90 9.4 268)">APC bound (nM)</text>
<text x="0.2" y="199.8" font-size="18" font-weight="bold" text-anchor="start" fill="#000">C</text>
<polyline points="309.25,215 311.26,216.01 313.28,217.01 315.29,218.01 317.3,218.99 319.32,219.97 321.33,220.94 323.34,221.9 325.36,222.85 327.37,223.8 329.38,224.73 331.4,225.66 333.41,226.58 335.43,227.49 337.44,228.4 339.45,229.3 341.47,230.19 343.48,231.07 345.49,231.94 347.51,232.81 349.52,233.67 351.53,234.52 353.55,235.37 355.56,236.2 357.57,237.03 359.59,237.86 361.6,238.68 363.61,239.48 365.63,240.29 367.64,241.08 369.65,241.87 371.67,242.65 373.68,243.43 375.69,244.2 377.71,244.96 379.72,245.72 381.74,246.47 383.75,247.21 385.76,247.95 387.78,248.68 389.79,249.4 391.8,250.12 393.82,250.83 395.83,251.54 397.84,252.24 399.86,252.93 401.87,253.62 403.88,254.3 405.9,254.98 407.91,255.65 409.92,256.32 411.94,256.98 413.95,257.63 415.96,258.28 417.98,258.92 419.99,259.56 422.01,260.19 424.02,260.82 426.03,261.44 428.05,262.05 430.06,262.66 432.07,263.27 434.09,263.87 436.1,264.46 438.11,265.05 440.13,265.64 442.14,266.22 444.15,266.79 446.17,267.36 448.18,267.93 450.19,268.49 452.21,269.05 454.22,269.6 456.23,270.14 458.25,270.69 460.26,271.22 462.27,271.75 464.29,272.28 466.3,272.81 468.32,273.33 470.33,273.84 472.34,274.35 474.36,274.86 476.37,275.36 478.38,275.85 480.4,276.35 482.41,276.84 484.42,277.32 486.44,277.8 488.45,278.28 490.46,278.75 492.48,279.22 494.49,279.68 496.5,280.14 498.52,280.6 500.53,281.05 502.54,281.5 504.56,281.95 506.57,282.39 508.58,282.82" fill="none" stroke="#000" stroke-width="1.8" stroke-linejoin="round" stroke-linecap="round"/>
<polyline points="309.25,215 311.26,216.32 313.28,217.62 315.29,218.91 317.3,220.19 319.32,221.45 321.33,222.7 323.34,223.93 325.36,225.15 327.37,226.36 329.38,227.55 331.4,228.73 333.41,229.89 335.43,231.05 337.44,232.19 339.45,233.32 341.47,234.43 343.48,235.53 345.49,236.62 347.51,237.7 349.52,238.77 351.53,239.82 353.55,240.87 355.56,241.9 357.57,242.92 359.59,243.93 361.6,244.93 363.61,245.91 365.63,246.89 367.64,247.85 369.65,248.81 371.67,249.75 373.68,250.68 375.69,251.6 377.71,252.52 379.72,253.42 381.74,254.31 383.75,255.19 385.76,256.07 387.78,256.93 389.79,257.78 391.8,258.63 393.82,259.46 395.83,260.28 397.84,261.1 399.86,261.91 401.87,262.71 403.88,263.49 405.9,264.27 407.91,265.05 409.92,265.81 411.94,266.56 413.95,267.31 415.96,268.05 417.98,268.78 419.99,269.5 422.01,270.21 424.02,270.92 426.03,271.62 428.05,272.31 430.06,272.99 432.07,273.66 434.09,274.33 436.1,274.99 438.11,275.64 440.13,276.29 442.14,276.93 444.15,277.56 446.17,278.18 448.18,278.8 450.19,279.41 452.21,280.01 454.22,280.61 456.23,281.2 458.25,281.78 460.26,282.36 462.27,282.93 464.29,283.49 466.3,284.05 468.32,284.6 470.33,285.15 472.34,285.69 474.36,286.22 476.37,286.75 478.38,287.27 480.4,287.79 482.41,288.3 484.42,288.8 486.44,289.3 488.45,289.8 490.46,290.29 492.48,290.77 494.49,291.25 496.5,291.72 498.52,292.18 500.53,292.65 502.54,293.1 504.56,293.55 506.57,294 508.58,294.44" fill="none" stroke="#000" stroke-width="1.8" stroke-linejoin="round" stroke-linecap="round"/>
<polyline points="309.25,333.75 311.26,332.83 313.28,331.92 315.29,331.01 317.3,330.11 319.32,329.21 321.33,328.32 323.34,327.43 325.36,326.55 327.37,325.68 329.38,324.81 331.4,323.95 333.41,323.09 335.43,322.24 337.44,321.4 339.45,320.56 341.47,319.72 343.48,318.89 345.49,318.07 347.51,317.25 349.52,316.44 351.53,315.63 353.55,314.83 355.56,314.03 357.57,313.24 359.59,312.45 361.6,311.67 363.61,310.89 365.63,310.12 367.64,309.35 369.65,308.59 371.67,307.83 373.68,307.08 375.69,306.33 377.71,305.59 379.72,304.85 381.74,304.12 383.75,303.39 385.76,302.66 387.78,301.94 389.79,301.23 391.8,300.52 393.82,299.81 395.83,299.11 397.84,298.42 399.86,297.72 401.87,297.04 403.88,296.35 405.9,295.68 407.91,295 409.92,294.33 411.94,293.67 413.95,293.01 415.96,292.35 417.98,291.7 419.99,291.05 422.01,290.4 424.02,289.76 426.03,289.13 428.05,288.5 430.06,287.87 432.07,287.24 434.09,286.62 436.1,286.01 438.11,285.4 440.13,284.79 442.14,284.19 444.15,283.59 446.17,282.99 448.18,282.4 450.19,281.81 452.21,281.22 454.22,280.64 456.23,280.07 458.25,279.49 460.26,278.92 462.27,278.36 464.29,277.79 466.3,277.24 468.32,276.68 470.33,276.13 472.34,275.58 474.36,275.04 476.37,274.5 478.38,273.96 480.4,273.42 482.41,272.89 484.42,272.37 486.44,271.84 488.45,271.32 490.46,270.81 492.48,270.29 494.49,269.78 496.5,269.28 498.52,268.77 500.53,268.27 502.54,267.77 504.56,267.28 506.57,266.79 508.58,266.3" fill="none" stroke="#000" stroke-width="1.8" stroke-linejoin="round" stroke-linecap="round"/>
<polygon points="306.25,333.75 312.25,333.75 309.25,338.75" fill="#000"/>
<rect x="305.95" y="330.45" width="6.6" height="6.6" stroke="none" stroke-width="0" fill="#000"/>
<polygon points="325.65,314.51 331.65,314.51 328.65,319.51" fill="#000"/>
<rect x="325.35" y="311.21" width="6.6" height="6.6" stroke="none" stroke-width="0" fill="#000"/>
<polygon points="354.75,302.76 360.75,302.76 357.75,307.76" fill="#000"/>
<rect x="354.45" y="299.46" width="6.6" height="6.6" stroke="none" stroke-width="0" fill="#000"/>
<polygon points="374.15,296.94 380.15,296.94 377.15,301.94" fill="#000"/>
<rect x="373.85" y="293.64" width="6.6" height="6.6" stroke="none" stroke-width="0" fill="#000"/>
<polygon points="393.55,290.76 399.55,290.76 396.55,295.76" fill="#000"/>
<rect x="393.25" y="287.46" width="6.6" height="6.6" stroke="none" stroke-width="0" fill="#000"/>
<polygon points="412.95,287.44 418.95,287.44 415.95,292.44" fill="#000"/>
<rect x="412.65" y="284.14" width="6.6" height="6.6" stroke="none" stroke-width="0" fill="#000"/>
<polygon points="432.35,284.35 438.35,284.35 435.35,289.35" fill="#000"/>
<rect x="432.05" y="281.05" width="6.6" height="6.6" stroke="none" stroke-width="0" fill="#000"/>
<polygon points="451.75,281.5 457.75,281.5 454.75,286.5" fill="#000"/>
<rect x="451.45" y="278.2" width="6.6" height="6.6" stroke="none" stroke-width="0" fill="#000"/>
<polygon points="500.25,275.56 506.25,275.56 503.25,280.56" fill="#000"/>
<rect x="499.95" y="272.26" width="6.6" height="6.6" stroke="none" stroke-width="0" fill="#000"/>
<line x1="310.75" y1="207.88" x2="310.75" y2="221.17" stroke="#000" stroke-width="1.2"/>
<line x1="306.95" y1="207.88" x2="314.55" y2="207.88" stroke="#000" stroke-width="1.2"/>
<line x1="306.95" y1="221.17" x2="314.55" y2="221.17" stroke="#000" stroke-width="1.2"/>
<line x1="328.65" y1="217.38" x2="328.65" y2="228.77" stroke="#000" stroke-width="1.2"/>
<line x1="324.85" y1="217.38" x2="332.45" y2="217.38" stroke="#000" stroke-width="1.2"/>
<line x1="324.85" y1="228.77" x2="332.45" y2="228.77" stroke="#000" stroke-width="1.2"/>
<line x1="357.75" y1="231.15" x2="357.75" y2="240.65" stroke="#000" stroke-width="1.2"/>
<line x1="353.95" y1="231.15" x2="361.55" y2="231.15" stroke="#000" stroke-width="1.2"/>
<line x1="353.95" y1="240.65" x2="361.55" y2="240.65" stroke="#000" stroke-width="1.2"/>
<line x1="377.15" y1="242.55" x2="377.15" y2="247.3" stroke="#000" stroke-width="1.2"/>
<line x1="373.35" y1="242.55" x2="380.95" y2="242.55" stroke="#000" stroke-width="1.2"/>
<line x1="373.35" y1="247.3" x2="380.95" y2="247.3" stroke="#000" stroke-width="1.2"/>
<line x1="328.65" y1="227.59" x2="328.65" y2="242.79" stroke="#000" stroke-width="1.2"/>
<line x1="324.85" y1="227.59" x2="332.45" y2="227.59" stroke="#000" stroke-width="1.2"/>
<line x1="324.85" y1="242.79" x2="332.45" y2="242.79" stroke="#000" stroke-width="1.2"/>
<line x1="357.75" y1="240.18" x2="357.75" y2="249.68" stroke="#000" stroke-width="1.2"/>
<line x1="353.95" y1="240.18" x2="361.55" y2="240.18" stroke="#000" stroke-width="1.2"/>
<line x1="353.95" y1="249.68" x2="361.55" y2="249.68" stroke="#000" stroke-width="1.2"/>
<line x1="377.15" y1="250.15" x2="377.15" y2="259.65" stroke="#000" stroke-width="1.2"/>
<line x1="373.35" y1="250.15" x2="380.95" y2="250.15" stroke="#000" stroke-width="1.2"/>
<line x1="373.35" y1="259.65" x2="380.95" y2="259.65" stroke="#000" stroke-width="1.2"/>
<polygon points="310.75,216.63 313.65,220.23 310.75,223.83 307.85,220.23" fill="#fff" stroke="#000" stroke-width="1.3"/>
<polygon points="328.65,231.59 331.55,235.19 328.65,238.79 325.75,235.19" fill="#fff" stroke="#000" stroke-width="1.3"/>
<polygon points="357.75,241.33 360.65,244.93 357.75,248.53 354.85,244.93" fill="#fff" stroke="#000" stroke-width="1.3"/>
<polygon points="377.15,251.3 380.05,254.9 377.15,258.5 374.25,254.9" fill="#fff" stroke="#000" stroke-width="1.3"/>
<polygon points="396.55,258.19 399.45,261.79 396.55,265.39 393.65,261.79" fill="#fff" stroke="#000" stroke-width="1.3"/>
<polygon points="415.95,265.55 418.85,269.15 415.95,272.75 413.05,269.15" fill="#fff" stroke="#000" stroke-width="1.3"/>
<polygon points="435.35,270.3 438.25,273.9 435.35,277.5 432.45,273.9" fill="#fff" stroke="#000" stroke-width="1.3"/>
<polygon points="454.75,274.57 457.65,278.18 454.75,281.78 451.85,278.18" fill="#fff" stroke="#000" stroke-width="1.3"/>
<polygon points="483.85,281.7 486.75,285.3 483.85,288.9 480.95,285.3" fill="#fff" stroke="#000" stroke-width="1.3"/>
<polygon points="503.25,281.46 506.15,285.06 503.25,288.66 500.35,285.06" fill="#fff" stroke="#000" stroke-width="1.3"/>
<rect x="307.45" y="211.22" width="6.6" height="6.6" stroke="#000" stroke-width="1.4" fill="#fff"/>
<rect x="325.35" y="219.77" width="6.6" height="6.6" stroke="#000" stroke-width="1.4" fill="#fff"/>
<rect x="354.45" y="232.6" width="6.6" height="6.6" stroke="#000" stroke-width="1.4" fill="#fff"/>
<rect x="373.85" y="241.62" width="6.6" height="6.6" stroke="#000" stroke-width="1.4" fill="#fff"/>
<rect x="393.25" y="248.04" width="6.6" height="6.6" stroke="#000" stroke-width="1.4" fill="#fff"/>
<rect x="412.65" y="257.3" width="6.6" height="6.6" stroke="#000" stroke-width="1.4" fill="#fff"/>
<rect x="432.05" y="262.29" width="6.6" height="6.6" stroke="#000" stroke-width="1.4" fill="#fff"/>
<rect x="451.45" y="269.18" width="6.6" height="6.6" stroke="#000" stroke-width="1.4" fill="#fff"/>
<rect x="480.55" y="274.88" width="6.6" height="6.6" stroke="#000" stroke-width="1.4" fill="#fff"/>
<rect x="499.95" y="280.81" width="6.6" height="6.6" stroke="#000" stroke-width="1.4" fill="#fff"/>
<path d="M309.25,334.6 L309.25,202 L508.7,202 L508.7,334.6 Z" fill="none" stroke="#000" stroke-width="1.25"/>
<line x1="305.75" y1="333.75" x2="309.25" y2="333.75" stroke="#000" stroke-width="1.3"/>
<text x="304.75" y="337.35" font-size="10" font-weight="bold" text-anchor="end" fill="#000">0</text>
<line x1="305.75" y1="310" x2="309.25" y2="310" stroke="#000" stroke-width="1.3"/>
<text x="304.75" y="313.6" font-size="10" font-weight="bold" text-anchor="end" fill="#000">10</text>
<line x1="305.75" y1="286.25" x2="309.25" y2="286.25" stroke="#000" stroke-width="1.3"/>
<text x="304.75" y="289.85" font-size="10" font-weight="bold" text-anchor="end" fill="#000">20</text>
<line x1="305.75" y1="262.5" x2="309.25" y2="262.5" stroke="#000" stroke-width="1.3"/>
<text x="304.75" y="266.1" font-size="10" font-weight="bold" text-anchor="end" fill="#000">30</text>
<line x1="305.75" y1="238.75" x2="309.25" y2="238.75" stroke="#000" stroke-width="1.3"/>
<text x="304.75" y="242.35" font-size="10" font-weight="bold" text-anchor="end" fill="#000">40</text>
<line x1="305.75" y1="215" x2="309.25" y2="215" stroke="#000" stroke-width="1.3"/>
<text x="304.75" y="218.6" font-size="10" font-weight="bold" text-anchor="end" fill="#000">50</text>
<line x1="309.25" y1="334.6" x2="309.25" y2="338.1" stroke="#000" stroke-width="1.3"/>
<text x="309.25" y="349.8" font-size="10" font-weight="bold" text-anchor="middle" fill="#000">0</text>
<line x1="357.75" y1="334.6" x2="357.75" y2="338.1" stroke="#000" stroke-width="1.3"/>
<text x="357.75" y="349.8" font-size="10" font-weight="bold" text-anchor="middle" fill="#000">5</text>
<line x1="406.25" y1="334.6" x2="406.25" y2="338.1" stroke="#000" stroke-width="1.3"/>
<text x="406.25" y="349.8" font-size="10" font-weight="bold" text-anchor="middle" fill="#000">10</text>
<line x1="454.75" y1="334.6" x2="454.75" y2="338.1" stroke="#000" stroke-width="1.3"/>
<text x="454.75" y="349.8" font-size="10" font-weight="bold" text-anchor="middle" fill="#000">15</text>
<line x1="503.25" y1="334.6" x2="503.25" y2="338.1" stroke="#000" stroke-width="1.3"/>
<text x="503.25" y="349.8" font-size="10" font-weight="bold" text-anchor="middle" fill="#000">20</text>
<text x="409" y="363.4" font-size="10.8" font-weight="bold" text-anchor="middle" fill="#000">Time (hrs)</text>
<text x="281.2" y="266.6" font-size="11.3" font-weight="bold" text-anchor="middle" fill="#000" transform="rotate(-90 281.2 266.6)">PAR-1 peptides ( µM )</text>
<text x="502.8" y="218.9" font-size="10.7" font-weight="bold" text-anchor="end" fill="#000">TR33-62 substrate</text>
<text x="504.6" y="327.8" font-size="10.8" font-weight="bold" text-anchor="end" fill="#000">TR42-62 product</text>
<text x="271.4" y="199.8" font-size="18" font-weight="bold" text-anchor="start" fill="#000">D</text>
<polyline points="37,537.85 46.6,537.37" fill="none" stroke="#000" stroke-width="1.8" stroke-linejoin="round" stroke-linecap="round"/>
<polyline points="53.7,537.01 69.24,536.23" fill="none" stroke="#000" stroke-width="1.8" stroke-linejoin="round" stroke-linecap="round"/>
<polyline points="69.24,536.23 93.11,534.61 117.04,532.4 140.91,530.78 164.78,528.43 188.66,517.97 212.53,472.03" fill="none" stroke="#000" stroke-width="1.8" stroke-linejoin="round" stroke-linecap="round"/>
<polyline points="37,537.85 46.6,537.46" fill="none" stroke="#000" stroke-width="1.8" stroke-linejoin="round" stroke-linecap="round"/>
<polyline points="53.7,537.16 69.24,536.52" fill="none" stroke="#000" stroke-width="1.8" stroke-linejoin="round" stroke-linecap="round"/>
<polyline points="69.24,536.52 93.11,535.49 117.04,534.32 140.91,533.58 164.78,533.58 188.66,526.81 212.53,485.58" fill="none" stroke="#000" stroke-width="1.8" stroke-linejoin="round" stroke-linecap="round"/>
<line x1="188.66" y1="512.23" x2="188.66" y2="523.71" stroke="#000" stroke-width="1.3"/>
<line x1="185.16" y1="512.23" x2="192.16" y2="512.23" stroke="#000" stroke-width="1.3"/>
<line x1="185.16" y1="523.71" x2="192.16" y2="523.71" stroke="#000" stroke-width="1.3"/>
<line x1="212.53" y1="467.61" x2="212.53" y2="476.45" stroke="#000" stroke-width="1.3"/>
<line x1="209.03" y1="467.61" x2="216.03" y2="467.61" stroke="#000" stroke-width="1.3"/>
<line x1="209.03" y1="476.45" x2="216.03" y2="476.45" stroke="#000" stroke-width="1.3"/>
<line x1="212.53" y1="478.51" x2="212.53" y2="492.64" stroke="#000" stroke-width="1.3"/>
<line x1="209.03" y1="478.51" x2="216.03" y2="478.51" stroke="#000" stroke-width="1.3"/>
<line x1="209.03" y1="492.64" x2="216.03" y2="492.64" stroke="#000" stroke-width="1.3"/>
<rect x="65.94" y="532.93" width="6.6" height="6.6" stroke="#000" stroke-width="1.1" fill="#fff"/>
<rect x="89.81" y="531.31" width="6.6" height="6.6" stroke="#000" stroke-width="1.1" fill="#fff"/>
<rect x="113.74" y="529.1" width="6.6" height="6.6" stroke="#000" stroke-width="1.1" fill="#fff"/>
<rect x="137.61" y="527.48" width="6.6" height="6.6" stroke="#000" stroke-width="1.1" fill="#fff"/>
<rect x="161.48" y="525.13" width="6.6" height="6.6" stroke="#000" stroke-width="1.1" fill="#fff"/>
<rect x="185.36" y="514.67" width="6.6" height="6.6" stroke="#000" stroke-width="1.1" fill="#fff"/>
<rect x="209.23" y="468.73" width="6.6" height="6.6" stroke="#000" stroke-width="1.1" fill="#fff"/>
<polygon points="69.24,533.02 72.74,536.52 69.24,540.02 65.74,536.52" fill="#fff" stroke="#000" stroke-width="1.15"/>
<polygon points="93.11,531.99 96.61,535.49 93.11,538.99 89.61,535.49" fill="#fff" stroke="#000" stroke-width="1.15"/>
<polygon points="117.04,530.82 120.54,534.32 117.04,537.82 113.54,534.32" fill="#fff" stroke="#000" stroke-width="1.15"/>
<polygon points="140.91,530.08 144.41,533.58 140.91,537.08 137.41,533.58" fill="#fff" stroke="#000" stroke-width="1.15"/>
<polygon points="164.78,530.08 168.28,533.58 164.78,537.08 161.28,533.58" fill="#fff" stroke="#000" stroke-width="1.15"/>
<polygon points="188.66,523.31 192.16,526.81 188.66,530.31 185.16,526.81" fill="#fff" stroke="#000" stroke-width="1.15"/>
<polygon points="212.53,482.08 216.03,485.58 212.53,489.08 209.03,485.58" fill="#fff" stroke="#000" stroke-width="1.15"/>
<rect x="33.8" y="534.65" width="6.4" height="6.4" stroke="#000" stroke-width="1.1" fill="#fff"/>
<polygon points="37,534.35 40.5,537.85 37,541.35 33.5,537.85" fill="#fff" stroke="#000" stroke-width="1.0"/>
<path d="M37,537.8 L37,405 L236.4,405 L236.4,537.8" fill="none" stroke="#000" stroke-width="1.3"/>
<line x1="37" y1="537.8" x2="47.8" y2="537.8" stroke="#000" stroke-width="1.3"/>
<line x1="53.2" y1="537.8" x2="236.4" y2="537.8" stroke="#000" stroke-width="1.3"/>
<line x1="47.8" y1="535.8" x2="47.8" y2="539.8" stroke="#000" stroke-width="1.0"/>
<line x1="53.2" y1="535.8" x2="53.2" y2="539.8" stroke="#000" stroke-width="1.0"/>
<line x1="34" y1="537.85" x2="37" y2="537.85" stroke="#000" stroke-width="1.2"/>
<text x="33.4" y="542.35" font-size="10" font-weight="bold" text-anchor="end" fill="#000">0</text>
<line x1="34" y1="515.76" x2="37" y2="515.76" stroke="#000" stroke-width="1.2"/>
<text x="33.4" y="520.26" font-size="10" font-weight="bold" text-anchor="end" fill="#000">15</text>
<line x1="34" y1="493.68" x2="37" y2="493.68" stroke="#000" stroke-width="1.2"/>
<text x="33.4" y="498.18" font-size="10" font-weight="bold" text-anchor="end" fill="#000">30</text>
<line x1="34" y1="471.59" x2="37" y2="471.59" stroke="#000" stroke-width="1.2"/>
<text x="33.4" y="476.09" font-size="10" font-weight="bold" text-anchor="end" fill="#000">45</text>
<line x1="34" y1="449.5" x2="37" y2="449.5" stroke="#000" stroke-width="1.2"/>
<text x="33.4" y="454" font-size="10" font-weight="bold" text-anchor="end" fill="#000">60</text>
<line x1="34" y1="427.41" x2="37" y2="427.41" stroke="#000" stroke-width="1.2"/>
<text x="33.4" y="431.91" font-size="10" font-weight="bold" text-anchor="end" fill="#000">75</text>
<line x1="34" y1="405.33" x2="37" y2="405.33" stroke="#000" stroke-width="1.2"/>
<text x="33.4" y="409.83" font-size="10" font-weight="bold" text-anchor="end" fill="#000">90</text>
<line x1="37" y1="537.8" x2="37" y2="540.8" stroke="#000" stroke-width="1.1"/>
<text x="37" y="553.2" font-size="10" font-weight="bold" text-anchor="middle" fill="#000">0</text>
<line x1="77.8" y1="537.8" x2="77.8" y2="540.8" stroke="#000" stroke-width="1.1"/>
<text x="77.8" y="553.2" font-size="10" font-weight="bold" text-anchor="middle" fill="#000">10</text>
<line x1="157.1" y1="537.8" x2="157.1" y2="540.8" stroke="#000" stroke-width="1.1"/>
<text x="157.1" y="553.2" font-size="10" font-weight="bold" text-anchor="middle" fill="#000">100</text>
<line x1="236.4" y1="537.8" x2="236.4" y2="540.8" stroke="#000" stroke-width="1.1"/>
<text x="236.4" y="553.2" font-size="10" font-weight="bold" text-anchor="middle" fill="#000">1000</text>
<line x1="53.93" y1="537.8" x2="53.93" y2="539.8" stroke="#000" stroke-width="0.9"/>
<line x1="60.21" y1="537.8" x2="60.21" y2="539.8" stroke="#000" stroke-width="0.9"/>
<line x1="65.52" y1="537.8" x2="65.52" y2="539.8" stroke="#000" stroke-width="0.9"/>
<line x1="70.12" y1="537.8" x2="70.12" y2="539.8" stroke="#000" stroke-width="0.9"/>
<line x1="74.17" y1="537.8" x2="74.17" y2="539.8" stroke="#000" stroke-width="0.9"/>
<line x1="101.67" y1="537.8" x2="101.67" y2="539.8" stroke="#000" stroke-width="0.9"/>
<line x1="115.64" y1="537.8" x2="115.64" y2="539.8" stroke="#000" stroke-width="0.9"/>
<line x1="125.54" y1="537.8" x2="125.54" y2="539.8" stroke="#000" stroke-width="0.9"/>
<line x1="133.23" y1="537.8" x2="133.23" y2="539.8" stroke="#000" stroke-width="0.9"/>
<line x1="139.51" y1="537.8" x2="139.51" y2="539.8" stroke="#000" stroke-width="0.9"/>
<line x1="144.82" y1="537.8" x2="144.82" y2="539.8" stroke="#000" stroke-width="0.9"/>
<line x1="149.42" y1="537.8" x2="149.42" y2="539.8" stroke="#000" stroke-width="0.9"/>
<line x1="153.47" y1="537.8" x2="153.47" y2="539.8" stroke="#000" stroke-width="0.9"/>
<line x1="180.97" y1="537.8" x2="180.97" y2="539.8" stroke="#000" stroke-width="0.9"/>
<line x1="194.94" y1="537.8" x2="194.94" y2="539.8" stroke="#000" stroke-width="0.9"/>
<line x1="204.84" y1="537.8" x2="204.84" y2="539.8" stroke="#000" stroke-width="0.9"/>
<line x1="212.53" y1="537.8" x2="212.53" y2="539.8" stroke="#000" stroke-width="0.9"/>
<line x1="218.81" y1="537.8" x2="218.81" y2="539.8" stroke="#000" stroke-width="0.9"/>
<line x1="224.12" y1="537.8" x2="224.12" y2="539.8" stroke="#000" stroke-width="0.9"/>
<line x1="228.72" y1="537.8" x2="228.72" y2="539.8" stroke="#000" stroke-width="0.9"/>
<line x1="232.77" y1="537.8" x2="232.77" y2="539.8" stroke="#000" stroke-width="0.9"/>
<text x="135.8" y="569.6" font-size="10.6" font-weight="bold" text-anchor="middle" fill="#000">APC (nM)</text>
<text x="10.4" y="469.8" font-size="10.8" font-weight="bold" text-anchor="middle" fill="#000" transform="rotate(-90 10.4 469.8)">SEAP release (mOD/min)</text>
<text x="43.6" y="421.7" font-size="10" font-weight="bold" text-anchor="start" fill="#000" textLength="46.3" lengthAdjust="spacingAndGlyphs">no EPCR</text>
<text x="0.1" y="398.5" font-size="18" font-weight="bold" text-anchor="start" fill="#000">E</text>
<polyline points="308.3,537.85 317.9,534.43" fill="none" stroke="#000" stroke-width="1.6" stroke-linejoin="round" stroke-linecap="round"/>
<polyline points="325,531.9 340.54,526.36" fill="none" stroke="#000" stroke-width="1.6" stroke-linejoin="round" stroke-linecap="round"/>
<polyline points="340.54,526.36 364.41,520.77 388.34,509.28 412.21,497.36 436.08,489.26 459.96,469.38 483.83,431.09" fill="none" stroke="#000" stroke-width="1.6" stroke-linejoin="round" stroke-linecap="round"/>
<polyline points="308.3,537.85 317.9,534.65" fill="none" stroke="#000" stroke-width="1.6" stroke-linejoin="round" stroke-linecap="round"/>
<polyline points="325,532.28 340.54,527.1" fill="none" stroke="#000" stroke-width="1.6" stroke-linejoin="round" stroke-linecap="round"/>
<polyline points="340.54,527.1 364.41,521.51 388.34,512.08 412.21,499.27 436.08,488.23 459.96,476.3 483.83,451.71" fill="none" stroke="#000" stroke-width="1.6" stroke-linejoin="round" stroke-linecap="round"/>
<line x1="412.21" y1="495.15" x2="412.21" y2="499.57" stroke="#000" stroke-width="1.3"/>
<line x1="408.71" y1="495.15" x2="415.71" y2="495.15" stroke="#000" stroke-width="1.3"/>
<line x1="408.71" y1="499.57" x2="415.71" y2="499.57" stroke="#000" stroke-width="1.3"/>
<line x1="436.08" y1="484.84" x2="436.08" y2="493.68" stroke="#000" stroke-width="1.3"/>
<line x1="432.58" y1="484.84" x2="439.58" y2="484.84" stroke="#000" stroke-width="1.3"/>
<line x1="432.58" y1="493.68" x2="439.58" y2="493.68" stroke="#000" stroke-width="1.3"/>
<line x1="483.83" y1="414.9" x2="483.83" y2="447.29" stroke="#000" stroke-width="1.3"/>
<line x1="480.33" y1="414.9" x2="487.33" y2="414.9" stroke="#000" stroke-width="1.3"/>
<line x1="480.33" y1="447.29" x2="487.33" y2="447.29" stroke="#000" stroke-width="1.3"/>
<line x1="412.21" y1="494.12" x2="412.21" y2="504.42" stroke="#000" stroke-width="1.3"/>
<line x1="408.71" y1="494.12" x2="415.71" y2="494.12" stroke="#000" stroke-width="1.3"/>
<line x1="408.71" y1="504.42" x2="415.71" y2="504.42" stroke="#000" stroke-width="1.3"/>
<line x1="436.08" y1="485.28" x2="436.08" y2="491.17" stroke="#000" stroke-width="1.3"/>
<line x1="432.58" y1="485.28" x2="439.58" y2="485.28" stroke="#000" stroke-width="1.3"/>
<line x1="432.58" y1="491.17" x2="439.58" y2="491.17" stroke="#000" stroke-width="1.3"/>
<line x1="483.83" y1="440.81" x2="483.83" y2="462.61" stroke="#000" stroke-width="1.3"/>
<line x1="480.33" y1="440.81" x2="487.33" y2="440.81" stroke="#000" stroke-width="1.3"/>
<line x1="480.33" y1="462.61" x2="487.33" y2="462.61" stroke="#000" stroke-width="1.3"/>
<rect x="337.24" y="523.06" width="6.6" height="6.6" stroke="#000" stroke-width="1.1" fill="#fff"/>
<rect x="361.11" y="517.47" width="6.6" height="6.6" stroke="#000" stroke-width="1.1" fill="#fff"/>
<rect x="385.04" y="505.98" width="6.6" height="6.6" stroke="#000" stroke-width="1.1" fill="#fff"/>
<rect x="408.91" y="494.06" width="6.6" height="6.6" stroke="#000" stroke-width="1.1" fill="#fff"/>
<rect x="432.78" y="485.96" width="6.6" height="6.6" stroke="#000" stroke-width="1.1" fill="#fff"/>
<rect x="456.66" y="466.08" width="6.6" height="6.6" stroke="#000" stroke-width="1.1" fill="#fff"/>
<rect x="480.53" y="427.79" width="6.6" height="6.6" stroke="#000" stroke-width="1.1" fill="#fff"/>
<polygon points="340.54,523.6 344.04,527.1 340.54,530.6 337.04,527.1" fill="#fff" stroke="#000" stroke-width="1.15"/>
<polygon points="364.41,518.01 367.91,521.51 364.41,525.01 360.91,521.51" fill="#fff" stroke="#000" stroke-width="1.15"/>
<polygon points="388.34,508.58 391.84,512.08 388.34,515.58 384.84,512.08" fill="#fff" stroke="#000" stroke-width="1.15"/>
<polygon points="412.21,495.77 415.71,499.27 412.21,502.77 408.71,499.27" fill="#fff" stroke="#000" stroke-width="1.15"/>
<polygon points="436.08,484.73 439.58,488.23 436.08,491.73 432.58,488.23" fill="#fff" stroke="#000" stroke-width="1.15"/>
<polygon points="459.96,472.8 463.46,476.3 459.96,479.8 456.46,476.3" fill="#fff" stroke="#000" stroke-width="1.15"/>
<polygon points="483.83,448.21 487.33,451.71 483.83,455.21 480.33,451.71" fill="#fff" stroke="#000" stroke-width="1.15"/>
<rect x="305.1" y="534.65" width="6.4" height="6.4" stroke="#000" stroke-width="1.1" fill="#fff"/>
<polygon points="308.3,534.35 311.8,537.85 308.3,541.35 304.8,537.85" fill="#fff" stroke="#000" stroke-width="1.0"/>
<path d="M308.3,537.8 L308.3,405 L507.7,405 L507.7,537.8" fill="none" stroke="#000" stroke-width="1.3"/>
<line x1="308.3" y1="537.8" x2="319.1" y2="537.8" stroke="#000" stroke-width="1.3"/>
<line x1="324.5" y1="537.8" x2="507.7" y2="537.8" stroke="#000" stroke-width="1.3"/>
<line x1="319.1" y1="535.8" x2="319.1" y2="539.8" stroke="#000" stroke-width="1.0"/>
<line x1="324.5" y1="535.8" x2="324.5" y2="539.8" stroke="#000" stroke-width="1.0"/>
<line x1="305.3" y1="537.85" x2="308.3" y2="537.85" stroke="#000" stroke-width="1.2"/>
<text x="304.7" y="542.35" font-size="10" font-weight="bold" text-anchor="end" fill="#000">0</text>
<line x1="305.3" y1="515.76" x2="308.3" y2="515.76" stroke="#000" stroke-width="1.2"/>
<text x="304.7" y="520.26" font-size="10" font-weight="bold" text-anchor="end" fill="#000">15</text>
<line x1="305.3" y1="493.68" x2="308.3" y2="493.68" stroke="#000" stroke-width="1.2"/>
<text x="304.7" y="498.18" font-size="10" font-weight="bold" text-anchor="end" fill="#000">30</text>
<line x1="305.3" y1="471.59" x2="308.3" y2="471.59" stroke="#000" stroke-width="1.2"/>
<text x="304.7" y="476.09" font-size="10" font-weight="bold" text-anchor="end" fill="#000">45</text>
<line x1="305.3" y1="449.5" x2="308.3" y2="449.5" stroke="#000" stroke-width="1.2"/>
<text x="304.7" y="454" font-size="10" font-weight="bold" text-anchor="end" fill="#000">60</text>
<line x1="305.3" y1="427.41" x2="308.3" y2="427.41" stroke="#000" stroke-width="1.2"/>
<text x="304.7" y="431.91" font-size="10" font-weight="bold" text-anchor="end" fill="#000">75</text>
<line x1="305.3" y1="405.33" x2="308.3" y2="405.33" stroke="#000" stroke-width="1.2"/>
<text x="304.7" y="409.83" font-size="10" font-weight="bold" text-anchor="end" fill="#000">90</text>
<line x1="308.3" y1="537.8" x2="308.3" y2="540.8" stroke="#000" stroke-width="1.1"/>
<text x="308.3" y="553.2" font-size="10" font-weight="bold" text-anchor="middle" fill="#000">0</text>
<line x1="349.1" y1="537.8" x2="349.1" y2="540.8" stroke="#000" stroke-width="1.1"/>
<text x="349.1" y="553.2" font-size="10" font-weight="bold" text-anchor="middle" fill="#000">10</text>
<line x1="428.4" y1="537.8" x2="428.4" y2="540.8" stroke="#000" stroke-width="1.1"/>
<text x="428.4" y="553.2" font-size="10" font-weight="bold" text-anchor="middle" fill="#000">100</text>
<line x1="507.7" y1="537.8" x2="507.7" y2="540.8" stroke="#000" stroke-width="1.1"/>
<text x="507.7" y="553.2" font-size="10" font-weight="bold" text-anchor="middle" fill="#000">1000</text>
<line x1="325.23" y1="537.8" x2="325.23" y2="539.8" stroke="#000" stroke-width="0.9"/>
<line x1="331.51" y1="537.8" x2="331.51" y2="539.8" stroke="#000" stroke-width="0.9"/>
<line x1="336.82" y1="537.8" x2="336.82" y2="539.8" stroke="#000" stroke-width="0.9"/>
<line x1="341.42" y1="537.8" x2="341.42" y2="539.8" stroke="#000" stroke-width="0.9"/>
<line x1="345.47" y1="537.8" x2="345.47" y2="539.8" stroke="#000" stroke-width="0.9"/>
<line x1="372.97" y1="537.8" x2="372.97" y2="539.8" stroke="#000" stroke-width="0.9"/>
<line x1="386.94" y1="537.8" x2="386.94" y2="539.8" stroke="#000" stroke-width="0.9"/>
<line x1="396.84" y1="537.8" x2="396.84" y2="539.8" stroke="#000" stroke-width="0.9"/>
<line x1="404.53" y1="537.8" x2="404.53" y2="539.8" stroke="#000" stroke-width="0.9"/>
<line x1="410.81" y1="537.8" x2="410.81" y2="539.8" stroke="#000" stroke-width="0.9"/>
<line x1="416.12" y1="537.8" x2="416.12" y2="539.8" stroke="#000" stroke-width="0.9"/>
<line x1="420.72" y1="537.8" x2="420.72" y2="539.8" stroke="#000" stroke-width="0.9"/>
<line x1="424.77" y1="537.8" x2="424.77" y2="539.8" stroke="#000" stroke-width="0.9"/>
<line x1="452.27" y1="537.8" x2="452.27" y2="539.8" stroke="#000" stroke-width="0.9"/>
<line x1="466.24" y1="537.8" x2="466.24" y2="539.8" stroke="#000" stroke-width="0.9"/>
<line x1="476.14" y1="537.8" x2="476.14" y2="539.8" stroke="#000" stroke-width="0.9"/>
<line x1="483.83" y1="537.8" x2="483.83" y2="539.8" stroke="#000" stroke-width="0.9"/>
<line x1="490.11" y1="537.8" x2="490.11" y2="539.8" stroke="#000" stroke-width="0.9"/>
<line x1="495.42" y1="537.8" x2="495.42" y2="539.8" stroke="#000" stroke-width="0.9"/>
<line x1="500.02" y1="537.8" x2="500.02" y2="539.8" stroke="#000" stroke-width="0.9"/>
<line x1="504.07" y1="537.8" x2="504.07" y2="539.8" stroke="#000" stroke-width="0.9"/>
<text x="407.1" y="569.6" font-size="10.6" font-weight="bold" text-anchor="middle" fill="#000">APC (nM)</text>
<text x="281.7" y="469.8" font-size="10.8" font-weight="bold" text-anchor="middle" fill="#000" transform="rotate(-90 281.7 469.8)">SEAP release (mOD/min)</text>
<text x="314.9" y="421.7" font-size="10" font-weight="bold" text-anchor="start" fill="#000" textLength="46.4" lengthAdjust="spacingAndGlyphs">wt-EPCR</text>
<text x="272" y="398.5" font-size="18" font-weight="bold" text-anchor="start" fill="#000">F</text>
<line x1="33.5" y1="632" x2="247.9" y2="632" stroke="#555" stroke-width="1.6" stroke-dasharray="6 4.8"/>
<rect x="37.7" y="632.31" width="6.8" height="77.69" stroke="#2a2a2a" stroke-width="1.1" fill="#b8b8b8"/>
<line x1="37.7" y1="632.31" x2="44.5" y2="632.31" stroke="#000" stroke-width="1.8"/>
<rect x="52.93" y="690.73" width="6.8" height="19.27" stroke="#2a2a2a" stroke-width="1.1" fill="#b8b8b8"/>
<line x1="52.93" y1="690.73" x2="59.73" y2="690.73" stroke="#000" stroke-width="1.8"/>
<rect x="68.16" y="633.95" width="6.8" height="76.05" stroke="#2a2a2a" stroke-width="1.1" fill="#b8b8b8"/>
<line x1="68.36" y1="632" x2="74.76" y2="632" stroke="#000" stroke-width="1.1"/>
<line x1="71.56" y1="632" x2="71.56" y2="635.9" stroke="#000" stroke-width="1.0"/>
<line x1="68.36" y1="635.9" x2="74.76" y2="635.9" stroke="#000" stroke-width="1.1"/>
<rect x="83.39" y="644.87" width="6.8" height="65.13" stroke="#2a2a2a" stroke-width="1.1" fill="#b8b8b8"/>
<line x1="83.59" y1="643.31" x2="89.99" y2="643.31" stroke="#000" stroke-width="1.1"/>
<line x1="86.79" y1="643.31" x2="86.79" y2="646.43" stroke="#000" stroke-width="1.0"/>
<line x1="83.59" y1="646.43" x2="89.99" y2="646.43" stroke="#000" stroke-width="1.1"/>
<rect x="98.62" y="664.37" width="6.8" height="45.63" stroke="#2a2a2a" stroke-width="1.1" fill="#b8b8b8"/>
<line x1="98.82" y1="661.25" x2="105.22" y2="661.25" stroke="#000" stroke-width="1.1"/>
<line x1="102.02" y1="661.25" x2="102.02" y2="667.49" stroke="#000" stroke-width="1.0"/>
<line x1="98.82" y1="667.49" x2="105.22" y2="667.49" stroke="#000" stroke-width="1.1"/>
<rect x="113.85" y="631.22" width="6.8" height="78.78" stroke="#2a2a2a" stroke-width="1.1" fill="#b8b8b8"/>
<line x1="114.05" y1="630.05" x2="120.45" y2="630.05" stroke="#000" stroke-width="1.1"/>
<line x1="117.25" y1="630.05" x2="117.25" y2="632.39" stroke="#000" stroke-width="1.0"/>
<line x1="114.05" y1="632.39" x2="120.45" y2="632.39" stroke="#000" stroke-width="1.1"/>
<rect x="129.08" y="629.66" width="6.8" height="80.34" stroke="#2a2a2a" stroke-width="1.1" fill="#b8b8b8"/>
<line x1="129.28" y1="627.32" x2="135.68" y2="627.32" stroke="#000" stroke-width="1.1"/>
<line x1="132.48" y1="627.32" x2="132.48" y2="632" stroke="#000" stroke-width="1.0"/>
<line x1="129.28" y1="632" x2="135.68" y2="632" stroke="#000" stroke-width="1.1"/>
<rect x="144.31" y="629.66" width="6.8" height="80.34" stroke="#2a2a2a" stroke-width="1.1" fill="#b8b8b8"/>
<line x1="144.51" y1="628.1" x2="150.91" y2="628.1" stroke="#000" stroke-width="1.1"/>
<line x1="147.71" y1="628.1" x2="147.71" y2="631.22" stroke="#000" stroke-width="1.0"/>
<line x1="144.51" y1="631.22" x2="150.91" y2="631.22" stroke="#000" stroke-width="1.1"/>
<rect x="159.54" y="634.96" width="6.8" height="75.04" stroke="#2a2a2a" stroke-width="1.1" fill="#b8b8b8"/>
<line x1="159.74" y1="633.4" x2="166.14" y2="633.4" stroke="#000" stroke-width="1.1"/>
<line x1="162.94" y1="633.4" x2="162.94" y2="636.52" stroke="#000" stroke-width="1.0"/>
<line x1="159.74" y1="636.52" x2="166.14" y2="636.52" stroke="#000" stroke-width="1.1"/>
<rect x="174.77" y="648.38" width="6.8" height="61.62" stroke="#2a2a2a" stroke-width="1.1" fill="#b8b8b8"/>
<line x1="174.77" y1="648.38" x2="181.57" y2="648.38" stroke="#000" stroke-width="1.8"/>
<rect x="190" y="670.22" width="6.8" height="39.78" stroke="#2a2a2a" stroke-width="1.1" fill="#b8b8b8"/>
<line x1="190" y1="670.22" x2="196.8" y2="670.22" stroke="#000" stroke-width="1.8"/>
<rect x="205.23" y="637.46" width="6.8" height="72.54" stroke="#2a2a2a" stroke-width="1.1" fill="#b8b8b8"/>
<line x1="205.43" y1="635.9" x2="211.83" y2="635.9" stroke="#000" stroke-width="1.1"/>
<line x1="208.63" y1="635.9" x2="208.63" y2="639.02" stroke="#000" stroke-width="1.0"/>
<line x1="205.43" y1="639.02" x2="211.83" y2="639.02" stroke="#000" stroke-width="1.1"/>
<rect x="220.46" y="653.06" width="6.8" height="56.94" stroke="#2a2a2a" stroke-width="1.1" fill="#b8b8b8"/>
<line x1="220.46" y1="653.06" x2="227.26" y2="653.06" stroke="#000" stroke-width="1.8"/>
<rect x="235.69" y="675.68" width="6.8" height="34.32" stroke="#2a2a2a" stroke-width="1.1" fill="#b8b8b8"/>
<line x1="235.69" y1="675.68" x2="242.49" y2="675.68" stroke="#000" stroke-width="1.8"/>
<path d="M33.5,710 L33.5,608.7 L247.9,608.7 L247.9,710" fill="none" stroke="#000" stroke-width="1.2"/>
<line x1="33" y1="710" x2="248.4" y2="710" stroke="#000" stroke-width="1.35"/>
<line x1="30" y1="710" x2="33.5" y2="710" stroke="#000" stroke-width="1.2"/>
<text x="28.7" y="713.6" font-size="10" font-weight="bold" text-anchor="end" fill="#000">0</text>
<line x1="30" y1="694.4" x2="33.5" y2="694.4" stroke="#000" stroke-width="1.2"/>
<text x="28.7" y="698" font-size="10" font-weight="bold" text-anchor="end" fill="#000">0.2</text>
<line x1="30" y1="678.8" x2="33.5" y2="678.8" stroke="#000" stroke-width="1.2"/>
<text x="28.7" y="682.4" font-size="10" font-weight="bold" text-anchor="end" fill="#000">0.4</text>
<line x1="30" y1="663.2" x2="33.5" y2="663.2" stroke="#000" stroke-width="1.2"/>
<text x="28.7" y="666.8" font-size="10" font-weight="bold" text-anchor="end" fill="#000">0.6</text>
<line x1="30" y1="647.6" x2="33.5" y2="647.6" stroke="#000" stroke-width="1.2"/>
<text x="28.7" y="651.2" font-size="10" font-weight="bold" text-anchor="end" fill="#000">0.8</text>
<line x1="30" y1="632" x2="33.5" y2="632" stroke="#000" stroke-width="1.2"/>
<text x="28.7" y="635.6" font-size="10" font-weight="bold" text-anchor="end" fill="#000">1.0</text>
<line x1="30" y1="616.4" x2="33.5" y2="616.4" stroke="#000" stroke-width="1.2"/>
<text x="28.7" y="620" font-size="10" font-weight="bold" text-anchor="end" fill="#000">1.2</text>
<text x="9.6" y="655.2" font-size="10.8" font-weight="bold" text-anchor="middle" fill="#000" transform="rotate(-90 9.6 655.2)">normalized OD</text>
<text x="243.3" y="623" font-size="10.3" font-weight="bold" text-anchor="end" fill="#000">ATAP-2</text>
<text x="0.2" y="604.5" font-size="18" font-weight="bold" text-anchor="start" fill="#000">G</text>
<line x1="33.5" y1="710" x2="33.5" y2="777" stroke="#000" stroke-width="1.1"/>
<line x1="48.81" y1="710" x2="48.81" y2="740.6" stroke="#000" stroke-width="1.0"/>
<line x1="64.13" y1="710" x2="64.13" y2="777" stroke="#000" stroke-width="1.1"/>
<line x1="79.44" y1="710" x2="79.44" y2="740.6" stroke="#000" stroke-width="1.0"/>
<line x1="94.76" y1="710" x2="94.76" y2="740.6" stroke="#000" stroke-width="1.0"/>
<line x1="110.07" y1="710" x2="110.07" y2="777" stroke="#000" stroke-width="1.1"/>
<line x1="125.38" y1="710" x2="125.38" y2="740.6" stroke="#000" stroke-width="1.0"/>
<line x1="140.7" y1="710" x2="140.7" y2="740.6" stroke="#000" stroke-width="1.0"/>
<line x1="156.01" y1="710" x2="156.01" y2="777" stroke="#000" stroke-width="1.1"/>
<line x1="171.33" y1="710" x2="171.33" y2="740.6" stroke="#000" stroke-width="1.0"/>
<line x1="186.64" y1="710" x2="186.64" y2="740.6" stroke="#000" stroke-width="1.0"/>
<line x1="201.95" y1="710" x2="201.95" y2="777" stroke="#000" stroke-width="1.1"/>
<line x1="217.27" y1="710" x2="217.27" y2="740.6" stroke="#000" stroke-width="1.0"/>
<line x1="232.58" y1="710" x2="232.58" y2="740.6" stroke="#000" stroke-width="1.0"/>
<line x1="247.9" y1="710" x2="247.9" y2="777" stroke="#000" stroke-width="1.1"/>
<text x="45.3" y="714" font-size="10.6" font-weight="normal" text-anchor="end" fill="#000" transform="rotate(-90 45.3 714)">none</text>
<text x="60.53" y="714" font-size="10.6" font-weight="normal" text-anchor="end" fill="#000" transform="rotate(-90 60.53 714)">IIa</text>
<text x="75.76" y="714" font-size="10.6" font-weight="normal" text-anchor="end" fill="#000" transform="rotate(-90 75.76 714)">4 nM</text>
<text x="90.99" y="714" font-size="10.6" font-weight="normal" text-anchor="end" fill="#000" transform="rotate(-90 90.99 714)">20 nM</text>
<text x="106.22" y="714" font-size="10.6" font-weight="normal" text-anchor="end" fill="#000" transform="rotate(-90 106.22 714)">100 nM</text>
<text x="121.45" y="714" font-size="10.6" font-weight="normal" text-anchor="end" fill="#000" transform="rotate(-90 121.45 714)">4 nM</text>
<text x="136.68" y="714" font-size="10.6" font-weight="normal" text-anchor="end" fill="#000" transform="rotate(-90 136.68 714)">20 nM</text>
<text x="151.91" y="714" font-size="10.6" font-weight="normal" text-anchor="end" fill="#000" transform="rotate(-90 151.91 714)">100 nM</text>
<text x="167.14" y="714" font-size="10.6" font-weight="normal" text-anchor="end" fill="#000" transform="rotate(-90 167.14 714)">4 nM</text>
<text x="182.37" y="714" font-size="10.6" font-weight="normal" text-anchor="end" fill="#000" transform="rotate(-90 182.37 714)">20 nM</text>
<text x="197.6" y="714" font-size="10.6" font-weight="normal" text-anchor="end" fill="#000" transform="rotate(-90 197.6 714)">100 nM</text>
<text x="212.83" y="714" font-size="10.6" font-weight="normal" text-anchor="end" fill="#000" transform="rotate(-90 212.83 714)">4 nM</text>
<text x="228.06" y="714" font-size="10.6" font-weight="normal" text-anchor="end" fill="#000" transform="rotate(-90 228.06 714)">20 nM</text>
<text x="243.29" y="714" font-size="10.6" font-weight="normal" text-anchor="end" fill="#000" transform="rotate(-90 243.29 714)">100 nM</text>
<text x="48.81" y="772.2" font-size="10.6" font-weight="bold" text-anchor="middle" fill="#000">none</text>
<text x="87.1" y="772.2" font-size="10.6" font-weight="bold" text-anchor="middle" fill="#000">pl-APC</text>
<text x="133.04" y="759.8" font-size="10.6" font-weight="bold" text-anchor="middle" fill="#000">DEGR-</text>
<text x="133.04" y="772.2" font-size="10.6" font-weight="bold" text-anchor="middle" fill="#000">pl-APC</text>
<text x="178.98" y="772.2" font-size="10.6" font-weight="bold" text-anchor="middle" fill="#000">wt-APC</text>
<text x="224.93" y="759.8" font-size="10.6" font-weight="bold" text-anchor="middle" fill="#000">E149A-</text>
<text x="224.93" y="772.2" font-size="10.6" font-weight="bold" text-anchor="middle" fill="#000">APC</text>
<line x1="304.8" y1="632" x2="519.2" y2="632" stroke="#555" stroke-width="1.6" stroke-dasharray="6 4.8"/>
<rect x="309" y="632" width="6.8" height="78" stroke="#2a2a2a" stroke-width="1.1" fill="#b8b8b8"/>
<line x1="309" y1="632" x2="315.8" y2="632" stroke="#000" stroke-width="1.8"/>
<rect x="324.23" y="682.7" width="6.8" height="27.3" stroke="#2a2a2a" stroke-width="1.1" fill="#b8b8b8"/>
<line x1="324.23" y1="682.7" x2="331.03" y2="682.7" stroke="#000" stroke-width="1.8"/>
<rect x="339.46" y="634.57" width="6.8" height="75.43" stroke="#2a2a2a" stroke-width="1.1" fill="#b8b8b8"/>
<line x1="339.66" y1="631.45" x2="346.06" y2="631.45" stroke="#000" stroke-width="1.1"/>
<line x1="342.86" y1="631.45" x2="342.86" y2="637.69" stroke="#000" stroke-width="1.0"/>
<line x1="339.66" y1="637.69" x2="346.06" y2="637.69" stroke="#000" stroke-width="1.1"/>
<rect x="354.69" y="633.95" width="6.8" height="76.05" stroke="#2a2a2a" stroke-width="1.1" fill="#b8b8b8"/>
<line x1="354.69" y1="633.95" x2="361.49" y2="633.95" stroke="#000" stroke-width="1.8"/>
<rect x="369.92" y="641.13" width="6.8" height="68.87" stroke="#2a2a2a" stroke-width="1.1" fill="#b8b8b8"/>
<line x1="369.92" y1="641.13" x2="376.72" y2="641.13" stroke="#000" stroke-width="1.8"/>
<rect x="385.15" y="627.71" width="6.8" height="82.29" stroke="#2a2a2a" stroke-width="1.1" fill="#b8b8b8"/>
<line x1="385.15" y1="627.71" x2="391.95" y2="627.71" stroke="#000" stroke-width="1.8"/>
<rect x="400.38" y="626.93" width="6.8" height="83.07" stroke="#2a2a2a" stroke-width="1.1" fill="#b8b8b8"/>
<line x1="400.38" y1="626.93" x2="407.18" y2="626.93" stroke="#000" stroke-width="1.8"/>
<rect x="415.61" y="629.66" width="6.8" height="80.34" stroke="#2a2a2a" stroke-width="1.1" fill="#b8b8b8"/>
<line x1="415.61" y1="629.66" x2="422.41" y2="629.66" stroke="#000" stroke-width="1.8"/>
<rect x="430.84" y="629.27" width="6.8" height="80.73" stroke="#2a2a2a" stroke-width="1.1" fill="#b8b8b8"/>
<line x1="430.84" y1="629.27" x2="437.64" y2="629.27" stroke="#000" stroke-width="1.8"/>
<rect x="446.07" y="631.61" width="6.8" height="78.39" stroke="#2a2a2a" stroke-width="1.1" fill="#b8b8b8"/>
<line x1="446.07" y1="631.61" x2="452.87" y2="631.61" stroke="#000" stroke-width="1.8"/>
<rect x="461.3" y="637.07" width="6.8" height="72.93" stroke="#2a2a2a" stroke-width="1.1" fill="#b8b8b8"/>
<line x1="461.3" y1="637.07" x2="468.1" y2="637.07" stroke="#000" stroke-width="1.8"/>
<rect x="476.53" y="630.83" width="6.8" height="79.17" stroke="#2a2a2a" stroke-width="1.1" fill="#b8b8b8"/>
<line x1="476.53" y1="630.83" x2="483.33" y2="630.83" stroke="#000" stroke-width="1.8"/>
<rect x="491.76" y="633.17" width="6.8" height="76.83" stroke="#2a2a2a" stroke-width="1.1" fill="#b8b8b8"/>
<line x1="491.96" y1="631.61" x2="498.36" y2="631.61" stroke="#000" stroke-width="1.1"/>
<line x1="495.16" y1="631.61" x2="495.16" y2="634.73" stroke="#000" stroke-width="1.0"/>
<line x1="491.96" y1="634.73" x2="498.36" y2="634.73" stroke="#000" stroke-width="1.1"/>
<rect x="506.99" y="640.19" width="6.8" height="69.81" stroke="#2a2a2a" stroke-width="1.1" fill="#b8b8b8"/>
<line x1="506.99" y1="640.19" x2="513.79" y2="640.19" stroke="#000" stroke-width="1.8"/>
<path d="M304.8,710 L304.8,608.7 L519.2,608.7 L519.2,710" fill="none" stroke="#000" stroke-width="1.2"/>
<line x1="304.3" y1="710" x2="519.7" y2="710" stroke="#000" stroke-width="1.35"/>
<line x1="301.3" y1="710" x2="304.8" y2="710" stroke="#000" stroke-width="1.2"/>
<text x="300" y="713.6" font-size="10" font-weight="bold" text-anchor="end" fill="#000">0</text>
<line x1="301.3" y1="694.4" x2="304.8" y2="694.4" stroke="#000" stroke-width="1.2"/>
<text x="300" y="698" font-size="10" font-weight="bold" text-anchor="end" fill="#000">0.2</text>
<line x1="301.3" y1="678.8" x2="304.8" y2="678.8" stroke="#000" stroke-width="1.2"/>
<text x="300" y="682.4" font-size="10" font-weight="bold" text-anchor="end" fill="#000">0.4</text>
<line x1="301.3" y1="663.2" x2="304.8" y2="663.2" stroke="#000" stroke-width="1.2"/>
<text x="300" y="666.8" font-size="10" font-weight="bold" text-anchor="end" fill="#000">0.6</text>
<line x1="301.3" y1="647.6" x2="304.8" y2="647.6" stroke="#000" stroke-width="1.2"/>
<text x="300" y="651.2" font-size="10" font-weight="bold" text-anchor="end" fill="#000">0.8</text>
<line x1="301.3" y1="632" x2="304.8" y2="632" stroke="#000" stroke-width="1.2"/>
<text x="300" y="635.6" font-size="10" font-weight="bold" text-anchor="end" fill="#000">1.0</text>
<line x1="301.3" y1="616.4" x2="304.8" y2="616.4" stroke="#000" stroke-width="1.2"/>
<text x="300" y="620" font-size="10" font-weight="bold" text-anchor="end" fill="#000">1.2</text>
<text x="280.9" y="655.2" font-size="10.8" font-weight="bold" text-anchor="middle" fill="#000" transform="rotate(-90 280.9 655.2)">normalized OD</text>
<text x="516" y="623" font-size="10.3" font-weight="bold" text-anchor="end" fill="#000">WEDE-15</text>
<text x="271.8" y="604.5" font-size="18" font-weight="bold" text-anchor="start" fill="#000">H</text>
<line x1="304.8" y1="710" x2="304.8" y2="777" stroke="#000" stroke-width="1.1"/>
<line x1="320.11" y1="710" x2="320.11" y2="740.6" stroke="#000" stroke-width="1.0"/>
<line x1="335.43" y1="710" x2="335.43" y2="777" stroke="#000" stroke-width="1.1"/>
<line x1="350.74" y1="710" x2="350.74" y2="740.6" stroke="#000" stroke-width="1.0"/>
<line x1="366.06" y1="710" x2="366.06" y2="740.6" stroke="#000" stroke-width="1.0"/>
<line x1="381.37" y1="710" x2="381.37" y2="777" stroke="#000" stroke-width="1.1"/>
<line x1="396.68" y1="710" x2="396.68" y2="740.6" stroke="#000" stroke-width="1.0"/>
<line x1="412" y1="710" x2="412" y2="740.6" stroke="#000" stroke-width="1.0"/>
<line x1="427.31" y1="710" x2="427.31" y2="777" stroke="#000" stroke-width="1.1"/>
<line x1="442.63" y1="710" x2="442.63" y2="740.6" stroke="#000" stroke-width="1.0"/>
<line x1="457.94" y1="710" x2="457.94" y2="740.6" stroke="#000" stroke-width="1.0"/>
<line x1="473.25" y1="710" x2="473.25" y2="777" stroke="#000" stroke-width="1.1"/>
<line x1="488.57" y1="710" x2="488.57" y2="740.6" stroke="#000" stroke-width="1.0"/>
<line x1="503.88" y1="710" x2="503.88" y2="740.6" stroke="#000" stroke-width="1.0"/>
<line x1="519.2" y1="710" x2="519.2" y2="777" stroke="#000" stroke-width="1.1"/>
<text x="316.6" y="714" font-size="10.6" font-weight="normal" text-anchor="end" fill="#000" transform="rotate(-90 316.6 714)">none</text>
<text x="331.83" y="714" font-size="10.6" font-weight="normal" text-anchor="end" fill="#000" transform="rotate(-90 331.83 714)">IIa</text>
<text x="347.06" y="714" font-size="10.6" font-weight="normal" text-anchor="end" fill="#000" transform="rotate(-90 347.06 714)">4 nM</text>
<text x="362.29" y="714" font-size="10.6" font-weight="normal" text-anchor="end" fill="#000" transform="rotate(-90 362.29 714)">20 nM</text>
<text x="377.52" y="714" font-size="10.6" font-weight="normal" text-anchor="end" fill="#000" transform="rotate(-90 377.52 714)">100 nM</text>
<text x="392.75" y="714" font-size="10.6" font-weight="normal" text-anchor="end" fill="#000" transform="rotate(-90 392.75 714)">4 nM</text>
<text x="407.98" y="714" font-size="10.6" font-weight="normal" text-anchor="end" fill="#000" transform="rotate(-90 407.98 714)">20 nM</text>
<text x="423.21" y="714" font-size="10.6" font-weight="normal" text-anchor="end" fill="#000" transform="rotate(-90 423.21 714)">100 nM</text>
<text x="438.44" y="714" font-size="10.6" font-weight="normal" text-anchor="end" fill="#000" transform="rotate(-90 438.44 714)">4 nM</text>
<text x="453.67" y="714" font-size="10.6" font-weight="normal" text-anchor="end" fill="#000" transform="rotate(-90 453.67 714)">20 nM</text>
<text x="468.9" y="714" font-size="10.6" font-weight="normal" text-anchor="end" fill="#000" transform="rotate(-90 468.9 714)">100 nM</text>
<text x="484.13" y="714" font-size="10.6" font-weight="normal" text-anchor="end" fill="#000" transform="rotate(-90 484.13 714)">4 nM</text>
<text x="499.36" y="714" font-size="10.6" font-weight="normal" text-anchor="end" fill="#000" transform="rotate(-90 499.36 714)">20 nM</text>
<text x="514.59" y="714" font-size="10.6" font-weight="normal" text-anchor="end" fill="#000" transform="rotate(-90 514.59 714)">100 nM</text>
<text x="320.11" y="772.2" font-size="10.6" font-weight="bold" text-anchor="middle" fill="#000">none</text>
<text x="358.4" y="772.2" font-size="10.6" font-weight="bold" text-anchor="middle" fill="#000">pl-APC</text>
<text x="404.34" y="759.8" font-size="10.6" font-weight="bold" text-anchor="middle" fill="#000">DEGR-</text>
<text x="404.34" y="772.2" font-size="10.6" font-weight="bold" text-anchor="middle" fill="#000">pl-APC</text>
<text x="450.28" y="772.2" font-size="10.6" font-weight="bold" text-anchor="middle" fill="#000">wt-APC</text>
<text x="496.23" y="759.8" font-size="10.6" font-weight="bold" text-anchor="middle" fill="#000">E149A-</text>
<text x="496.23" y="772.2" font-size="10.6" font-weight="bold" text-anchor="middle" fill="#000">APC</text>
</svg>
</body></html>
